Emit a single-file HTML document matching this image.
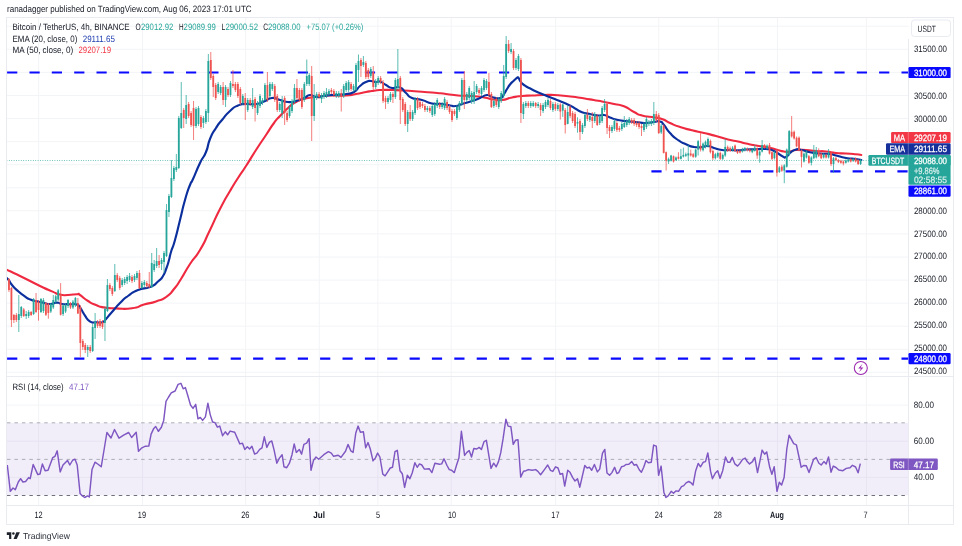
<!DOCTYPE html><html><head><meta charset="utf-8"><title>BTCUSDT chart</title><style>html,body{margin:0;padding:0;background:#fff}svg{display:block}</style></head><body><svg width="962" height="546" viewBox="0 0 962 546" font-family='"Liberation Sans", "DejaVu Sans", sans-serif' font-size="9.2" text-rendering="geometricPrecision">
<rect x="0" y="0" width="962" height="546" fill="#ffffff"/>
<g stroke="#f3f4f7" stroke-width="1">
<line x1="38.6" y1="17.5" x2="38.6" y2="505.5"/>
<line x1="142.5" y1="17.5" x2="142.5" y2="505.5"/>
<line x1="245.6" y1="17.5" x2="245.6" y2="505.5"/>
<line x1="319.3" y1="17.5" x2="319.3" y2="505.5"/>
<line x1="377.9" y1="17.5" x2="377.9" y2="505.5"/>
<line x1="451.2" y1="17.5" x2="451.2" y2="505.5"/>
<line x1="555.6" y1="17.5" x2="555.6" y2="505.5"/>
<line x1="658.8" y1="17.5" x2="658.8" y2="505.5"/>
<line x1="718.3" y1="17.5" x2="718.3" y2="505.5"/>
<line x1="777.5" y1="17.5" x2="777.5" y2="505.5"/>
<line x1="866.4" y1="17.5" x2="866.4" y2="505.5"/>
<line x1="6.5" y1="372.3" x2="908.5" y2="372.3"/>
<line x1="6.5" y1="349.3" x2="908.5" y2="349.3"/>
<line x1="6.5" y1="326.2" x2="908.5" y2="326.2"/>
<line x1="6.5" y1="303.1" x2="908.5" y2="303.1"/>
<line x1="6.5" y1="280.1" x2="908.5" y2="280.1"/>
<line x1="6.5" y1="257.0" x2="908.5" y2="257.0"/>
<line x1="6.5" y1="233.9" x2="908.5" y2="233.9"/>
<line x1="6.5" y1="210.8" x2="908.5" y2="210.8"/>
<line x1="6.5" y1="187.8" x2="908.5" y2="187.8"/>
<line x1="6.5" y1="164.7" x2="908.5" y2="164.7"/>
<line x1="6.5" y1="141.6" x2="908.5" y2="141.6"/>
<line x1="6.5" y1="118.5" x2="908.5" y2="118.5"/>
<line x1="6.5" y1="95.5" x2="908.5" y2="95.5"/>
<line x1="6.5" y1="72.4" x2="908.5" y2="72.4"/>
<line x1="6.5" y1="49.3" x2="908.5" y2="49.3"/>
<line x1="6.5" y1="26.2" x2="908.5" y2="26.2"/>
<line x1="6.5" y1="405.1" x2="908.5" y2="405.1"/>
<line x1="6.5" y1="441.2" x2="908.5" y2="441.2"/>
<line x1="6.5" y1="477.3" x2="908.5" y2="477.3"/>
</g>
<rect x="6.5" y="423" width="902.0" height="72.3" fill="#7e57c2" fill-opacity="0.1"/>
<g fill="none" stroke-width="0.9">
<line x1="7" y1="422.8" x2="908.5" y2="422.8" stroke="#a3a6af" stroke-dasharray="3.5 3.953"/>
<line x1="7" y1="459.4" x2="908.5" y2="459.4" stroke="#a3a6af" stroke-dasharray="3.5 3.953"/>
<line x1="7" y1="495.5" x2="908.5" y2="495.5" stroke="#5d606b" stroke-dasharray="3.5 3.953"/>
</g>
<line x1="6.5" y1="160.5" x2="908.5" y2="160.5" stroke="#26a69a" stroke-width="0.8" stroke-dasharray="0.8 1.6"/>
<path d="M7.1,72.5H17.3M29.5,72.5H39.7M51.8,72.5H62.0M74.2,72.5H84.4M96.5,72.5H106.7M118.9,72.5H129.1M141.3,72.5H151.5M163.6,72.5H173.8M186.0,72.5H196.2M208.3,72.5H218.5M230.7,72.5H240.9M253.1,72.5H263.3M275.4,72.5H285.6M297.8,72.5H308.0M320.1,72.5H330.3M342.5,72.5H352.7M364.9,72.5H375.1M387.2,72.5H397.4M409.6,72.5H419.8M431.9,72.5H442.1M454.3,72.5H464.5M476.7,72.5H486.9M499.0,72.5H509.2M521.4,72.5H531.6M543.7,72.5H553.9M566.1,72.5H576.3M588.5,72.5H598.7M610.8,72.5H621.0M633.2,72.5H643.4M655.5,72.5H665.7M677.9,72.5H688.1M700.3,72.5H710.5M722.6,72.5H732.8M745.0,72.5H755.2M767.3,72.5H777.5M789.7,72.5H799.9M812.1,72.5H822.3M834.4,72.5H844.6M856.8,72.5H867.0M879.1,72.5H889.3M901.5,72.5H908.5" stroke="#0a0aff" stroke-width="2.15" fill="none"/>
<path d="M7.1,358.6H17.3M29.5,358.6H39.7M51.8,358.6H62.0M74.2,358.6H84.4M96.5,358.6H106.7M118.9,358.6H129.1M141.3,358.6H151.5M163.6,358.6H173.8M186.0,358.6H196.2M208.3,358.6H218.5M230.7,358.6H240.9M253.1,358.6H263.3M275.4,358.6H285.6M297.8,358.6H308.0M320.1,358.6H330.3M342.5,358.6H352.7M364.9,358.6H375.1M387.2,358.6H397.4M409.6,358.6H419.8M431.9,358.6H442.1M454.3,358.6H464.5M476.7,358.6H486.9M499.0,358.6H509.2M521.4,358.6H531.6M543.7,358.6H553.9M566.1,358.6H576.3M588.5,358.6H598.7M610.8,358.6H621.0M633.2,358.6H643.4M655.5,358.6H665.7M677.9,358.6H688.1M700.3,358.6H710.5M722.6,358.6H732.8M745.0,358.6H755.2M767.3,358.6H777.5M789.7,358.6H799.9M812.1,358.6H822.3M834.4,358.6H844.6M856.8,358.6H867.0M879.1,358.6H889.3M901.5,358.6H908.5" stroke="#0a0aff" stroke-width="2.15" fill="none"/>
<path d="M651.4,171.4H661.6M673.8,171.4H684.0M696.1,171.4H706.3M718.5,171.4H728.7M740.8,171.4H751.0M763.2,171.4H773.4M785.6,171.4H795.8M807.9,171.4H818.1M830.3,171.4H840.5M852.6,171.4H862.8M875.0,171.4H885.2M897.4,171.4H907.6" stroke="#0a0aff" stroke-width="2.15" fill="none"/>
<clipPath id="cp"><rect x="7" y="18" width="901.5" height="358.5"/></clipPath>
<g clip-path="url(#cp)">
<path d="M6.5,269.7C11.0,271.8 8.8,270.6 20.0,276.0C31.2,281.4 29.3,280.9 40.0,286.0C50.7,291.1 45.3,288.5 52.0,291.4C58.7,294.3 54.7,293.4 60.0,294.6C65.3,295.8 62.3,295.1 68.0,295.0C73.7,294.9 73.0,294.2 77.0,294.2C81.0,294.2 76.3,292.7 80.0,295.0C83.7,297.3 82.7,297.7 88.0,301.0C93.3,304.3 90.7,302.9 96.0,305.0C101.3,307.1 97.3,306.3 104.0,307.4C110.7,308.5 106.7,308.1 116.0,308.4C125.3,308.7 122.7,309.5 132.0,308.2C141.3,306.9 136.0,306.9 144.0,304.6C152.0,302.3 148.7,303.9 156.0,301.4C163.3,298.9 160.0,301.1 166.0,297.0C172.0,292.9 169.0,295.0 174.0,289.0C179.0,283.0 175.7,287.3 181.0,279.0C186.3,270.7 183.7,273.7 190.0,264.0C196.3,254.3 193.3,261.3 200.0,250.0C206.7,238.7 203.3,243.7 210.0,230.0C216.7,216.3 213.3,222.0 220.0,209.0C226.7,196.0 224.0,201.3 230.0,191.0C236.0,180.7 232.7,186.3 238.0,178.0C243.3,169.7 240.0,175.3 246.0,166.0C252.0,156.7 249.3,160.3 256.0,150.0C262.7,139.7 260.0,144.0 266.0,135.0C272.0,126.0 269.3,129.3 274.0,123.0C278.7,116.7 275.3,121.0 280.0,116.0C284.7,111.0 282.7,112.7 288.0,108.0C293.3,103.3 290.7,105.0 296.0,102.0C301.3,99.0 298.7,100.5 304.0,99.0C309.3,97.5 306.0,98.5 312.0,97.5C318.0,96.5 314.7,96.7 322.0,96.0C329.3,95.3 326.0,95.7 334.0,95.5C342.0,95.3 338.7,96.0 346.0,95.5C353.3,95.0 349.3,95.2 356.0,94.0C362.7,92.8 360.0,93.1 366.0,92.0C372.0,90.9 368.7,91.4 374.0,90.7C379.3,90.0 376.0,90.2 382.0,90.0C388.0,89.8 384.7,89.8 392.0,90.0C399.3,90.2 395.3,90.0 404.0,90.5C412.7,91.0 408.7,90.8 418.0,91.5C427.3,92.2 422.7,91.7 432.0,92.5C441.3,93.3 437.3,93.0 446.0,94.0C454.7,95.0 449.3,94.8 458.0,95.5C466.7,96.2 463.3,95.3 472.0,96.0C480.7,96.7 476.7,96.3 484.0,97.5C491.3,98.7 488.0,98.7 494.0,99.5C500.0,100.3 496.0,100.7 502.0,100.0C508.0,99.3 505.3,98.8 512.0,97.5C518.7,96.2 515.3,96.7 522.0,96.0C528.7,95.3 524.7,95.8 532.0,95.5C539.3,95.2 536.7,95.2 544.0,95.0C551.3,94.8 546.7,94.7 554.0,95.0C561.3,95.3 558.0,95.2 566.0,96.0C574.0,96.8 570.0,96.4 578.0,97.5C586.0,98.6 582.0,98.1 590.0,99.4C598.0,100.7 594.0,100.0 602.0,101.5C610.0,103.0 606.7,102.4 614.0,104.0C621.3,105.6 617.3,103.6 624.0,106.3C630.7,109.0 628.0,108.9 634.0,112.0C640.0,115.1 636.0,113.8 642.0,115.5C648.0,117.2 645.3,115.8 652.0,117.0C658.7,118.2 656.0,117.0 662.0,119.0C668.0,121.0 664.0,120.3 670.0,123.0C676.0,125.7 672.7,124.6 680.0,127.0C687.3,129.4 684.0,128.3 692.0,130.3C700.0,132.3 696.0,131.1 704.0,133.0C712.0,134.9 708.0,133.8 716.0,136.0C724.0,138.2 720.7,137.7 728.0,139.5C735.3,141.3 732.0,140.2 738.0,141.5C744.0,142.8 740.0,142.2 746.0,143.5C752.0,144.8 749.3,144.3 756.0,145.5C762.7,146.7 759.3,145.7 766.0,147.0C772.7,148.3 770.0,148.0 776.0,149.5C782.0,151.0 779.3,150.8 784.0,151.5C788.7,152.2 786.0,152.0 790.0,151.5C794.0,151.0 790.7,150.5 796.0,150.0C801.3,149.5 799.3,149.7 806.0,150.0C812.7,150.3 809.3,150.5 816.0,151.0C822.7,151.5 819.3,150.8 826.0,151.5C832.7,152.2 829.3,152.3 836.0,153.0C842.7,153.7 839.3,153.1 846.0,153.5C852.7,153.9 850.9,153.8 856.0,154.3C861.1,154.8 859.5,154.8 861.3,155.0" fill="none" stroke="#ef2a40" stroke-width="2.1" stroke-linecap="round" stroke-linejoin="round"/>
<path d="M6.8,278.0C7.5,278.8 7.3,278.2 9.0,280.5C10.7,282.8 9.3,281.7 12.0,285.0C14.7,288.3 13.3,286.9 17.2,290.4C21.1,293.9 19.4,292.5 23.8,295.6C28.2,298.7 26.0,297.7 30.4,299.6C34.8,301.5 32.6,300.2 37.0,301.3C41.4,302.4 39.2,302.0 43.6,302.9C48.0,303.8 45.8,304.1 50.2,304.0C54.6,303.9 52.9,302.6 56.8,302.6C60.7,302.6 57.6,303.5 62.0,304.0C66.4,304.5 65.2,304.0 70.0,304.2C74.8,304.4 73.2,303.4 76.5,304.5C79.8,305.6 77.3,304.1 80.0,307.5C82.7,310.9 81.2,310.2 84.5,314.8C87.8,319.4 86.0,318.9 89.8,321.4C93.6,323.9 92.6,322.0 96.0,322.3C99.4,322.6 97.7,322.5 100.0,322.4C102.3,322.3 101.0,323.1 103.0,322.0C105.0,320.9 103.0,322.3 106.0,319.0C109.0,315.7 107.3,317.3 112.0,312.0C116.7,306.7 114.7,308.3 120.0,303.0C125.3,297.7 122.0,300.3 128.0,296.0C134.0,291.7 130.7,293.0 138.0,290.0C145.3,287.0 143.3,289.8 150.0,287.0C156.7,284.2 153.7,285.2 158.0,281.5C162.3,277.8 160.2,280.5 163.0,276.0C165.8,271.5 164.5,273.3 166.5,268.0C168.5,262.7 167.5,265.3 169.0,260.0C170.5,254.7 169.0,258.7 171.0,252.0C173.0,245.3 172.0,250.7 175.0,240.0C178.0,229.3 176.7,233.3 180.0,220.0C183.3,206.7 181.7,211.7 185.0,200.0C188.3,188.3 187.3,192.0 190.0,185.0C192.7,178.0 189.7,186.3 193.0,179.0C196.3,171.7 195.7,172.0 200.0,163.0C204.3,154.0 202.7,160.0 206.0,152.0C209.3,144.0 206.7,147.0 210.0,139.0C213.3,131.0 212.0,134.3 216.0,128.0C220.0,121.7 217.3,125.7 222.0,120.0C226.7,114.3 224.7,115.8 230.0,111.0C235.3,106.2 232.7,107.8 238.0,105.5C243.3,103.2 240.0,104.5 246.0,104.0C252.0,103.5 250.0,104.8 256.0,104.0C262.0,103.2 258.7,103.5 264.0,101.5C269.3,99.5 266.7,98.5 272.0,98.0C277.3,97.5 274.7,98.7 280.0,100.0C285.3,101.3 282.7,101.7 288.0,102.0C293.3,102.3 290.7,102.3 296.0,101.0C301.3,99.7 299.3,100.0 304.0,98.0C308.7,96.0 306.0,95.3 310.0,95.0C314.0,94.7 311.3,96.7 316.0,97.0C320.7,97.3 318.7,96.7 324.0,96.0C329.3,95.3 327.3,95.3 332.0,95.0C336.7,94.7 333.3,95.3 338.0,95.0C342.7,94.7 340.7,95.0 346.0,94.0C351.3,93.0 349.3,94.7 354.0,92.0C358.7,89.3 356.0,89.3 360.0,86.0C364.0,82.7 362.3,83.7 366.0,82.0C369.7,80.3 367.7,81.0 371.0,81.0C374.3,81.0 373.0,81.8 376.0,82.0C379.0,82.2 376.7,80.5 380.0,81.5C383.3,82.5 382.0,82.8 386.0,85.0C390.0,87.2 387.3,87.2 392.0,88.0C396.7,88.8 395.3,85.8 400.0,87.5C404.7,89.2 402.0,89.5 406.0,93.0C410.0,96.5 406.7,95.7 412.0,98.0C417.3,100.3 415.3,98.2 422.0,100.0C428.7,101.8 425.3,102.2 432.0,103.5C438.7,104.8 436.0,103.3 442.0,104.0C448.0,104.7 445.3,104.8 450.0,105.5C454.7,106.2 452.0,106.5 456.0,106.0C460.0,105.5 456.7,105.7 462.0,104.0C467.3,102.3 466.0,103.0 472.0,101.0C478.0,99.0 475.0,100.0 480.0,98.0C485.0,96.0 483.0,95.3 487.0,95.0C491.0,94.7 487.7,96.0 492.0,97.0C496.3,98.0 496.0,99.0 500.0,98.0C504.0,97.0 501.7,97.0 504.0,94.0C506.3,91.0 505.0,92.2 507.0,89.0C509.0,85.8 507.7,87.3 510.0,84.5C512.3,81.7 511.8,82.6 514.0,80.5C516.2,78.4 515.3,79.2 516.6,78.2C517.9,77.2 517.0,77.3 517.8,77.4C518.6,77.5 518.1,77.2 519.0,78.6C519.9,80.0 518.8,79.4 520.5,81.5C522.2,83.6 520.2,82.3 524.0,85.0C527.8,87.7 526.0,86.5 532.0,89.5C538.0,92.5 535.3,91.2 542.0,94.0C548.7,96.8 545.3,95.3 552.0,98.0C558.7,100.7 556.0,99.5 562.0,102.0C568.0,104.5 565.3,103.2 570.0,105.5C574.7,107.8 572.0,106.7 576.0,109.0C580.0,111.3 577.3,110.6 582.0,112.3C586.7,114.0 584.7,112.9 590.0,114.0C595.3,115.1 593.3,115.2 598.0,115.5C602.7,115.8 600.0,114.3 604.0,115.0C608.0,115.7 605.3,115.8 610.0,117.5C614.7,119.2 612.0,118.7 618.0,120.0C624.0,121.3 621.3,120.5 628.0,121.3C634.7,122.1 632.0,121.7 638.0,122.3C644.0,122.9 640.7,123.1 646.0,123.0C651.3,122.9 649.3,122.5 654.0,122.0C658.7,121.5 656.7,120.5 660.0,121.5C663.3,122.5 660.7,121.2 664.0,125.0C667.3,128.8 665.3,128.0 670.0,133.0C674.7,138.0 672.7,136.2 678.0,140.0C683.3,143.8 680.7,142.0 686.0,144.3C691.3,146.6 688.7,146.1 694.0,147.0C699.3,147.9 697.3,147.3 702.0,147.0C706.7,146.7 704.0,145.7 708.0,146.0C712.0,146.3 709.3,146.7 714.0,148.0C718.7,149.3 716.7,149.3 722.0,150.0C727.3,150.7 724.7,149.9 730.0,150.0C735.3,150.1 732.7,150.5 738.0,150.3C743.3,150.1 740.0,149.8 746.0,149.5C752.0,149.2 749.3,149.5 756.0,149.3C762.7,149.1 760.0,148.4 766.0,149.0C772.0,149.6 768.7,148.7 774.0,151.0C779.3,153.3 778.0,154.0 782.0,156.0C786.0,158.0 783.3,158.0 786.0,157.0C788.7,156.0 786.7,155.5 790.0,153.0C793.3,150.5 792.0,150.5 796.0,149.5C800.0,148.5 797.3,149.1 802.0,150.0C806.7,150.9 804.0,151.1 810.0,152.3C816.0,153.5 813.3,152.9 820.0,153.5C826.7,154.1 824.7,153.3 830.0,154.0C835.3,154.7 830.7,154.2 836.0,155.5C841.3,156.8 839.3,156.8 846.0,158.0C852.7,159.2 850.9,158.3 856.0,159.0C861.1,159.7 859.5,159.7 861.3,160.0" fill="none" stroke="#0c2f9e" stroke-width="2.15" stroke-linecap="round" stroke-linejoin="round"/>
<line x1="8.96" y1="278.0" x2="8.96" y2="292.0" stroke="#ef5350" stroke-width="0.75"/><line x1="11.43" y1="287.0" x2="11.43" y2="327.0" stroke="#ef5350" stroke-width="0.75"/><line x1="13.89" y1="314.0" x2="13.89" y2="323.0" stroke="#ef5350" stroke-width="0.75"/><line x1="16.35" y1="313.0" x2="16.35" y2="322.0" stroke="#ef5350" stroke-width="0.75"/><line x1="18.81" y1="295.0" x2="18.81" y2="332.0" stroke="#26a69a" stroke-width="0.75"/><line x1="21.27" y1="306.0" x2="21.27" y2="318.0" stroke="#26a69a" stroke-width="0.75"/><line x1="23.73" y1="308.0" x2="23.73" y2="317.0" stroke="#ef5350" stroke-width="0.75"/><line x1="26.19" y1="311.0" x2="26.19" y2="319.0" stroke="#26a69a" stroke-width="0.75"/><line x1="28.65" y1="310.0" x2="28.65" y2="318.0" stroke="#26a69a" stroke-width="0.75"/><line x1="31.12" y1="311.0" x2="31.12" y2="316.0" stroke="#ef5350" stroke-width="0.75"/><line x1="33.58" y1="298.0" x2="33.58" y2="315.0" stroke="#26a69a" stroke-width="0.75"/><line x1="36.04" y1="293.0" x2="36.04" y2="313.0" stroke="#ef5350" stroke-width="0.75"/><line x1="38.50" y1="300.0" x2="38.50" y2="320.7" stroke="#ef5350" stroke-width="0.75"/><line x1="40.96" y1="298.0" x2="40.96" y2="313.0" stroke="#26a69a" stroke-width="0.75"/><line x1="43.42" y1="298.0" x2="43.42" y2="313.0" stroke="#26a69a" stroke-width="0.75"/><line x1="45.88" y1="302.0" x2="45.88" y2="316.0" stroke="#ef5350" stroke-width="0.75"/><line x1="48.35" y1="303.0" x2="48.35" y2="318.7" stroke="#ef5350" stroke-width="0.75"/><line x1="50.81" y1="303.0" x2="50.81" y2="313.0" stroke="#26a69a" stroke-width="0.75"/><line x1="53.27" y1="295.0" x2="53.27" y2="309.0" stroke="#26a69a" stroke-width="0.75"/><line x1="55.73" y1="295.0" x2="55.73" y2="304.0" stroke="#26a69a" stroke-width="0.75"/><line x1="58.19" y1="289.0" x2="58.19" y2="301.0" stroke="#26a69a" stroke-width="0.75"/><line x1="60.65" y1="283.1" x2="60.65" y2="315.5" stroke="#ef5350" stroke-width="0.75"/><line x1="63.11" y1="304.0" x2="63.11" y2="316.0" stroke="#26a69a" stroke-width="0.75"/><line x1="65.57" y1="303.0" x2="65.57" y2="313.0" stroke="#26a69a" stroke-width="0.75"/><line x1="68.04" y1="299.0" x2="68.04" y2="308.0" stroke="#26a69a" stroke-width="0.75"/><line x1="70.50" y1="302.0" x2="70.50" y2="309.0" stroke="#ef5350" stroke-width="0.75"/><line x1="72.96" y1="300.0" x2="72.96" y2="309.0" stroke="#26a69a" stroke-width="0.75"/><line x1="75.42" y1="297.0" x2="75.42" y2="307.0" stroke="#26a69a" stroke-width="0.75"/><line x1="77.88" y1="298.0" x2="77.88" y2="314.0" stroke="#ef5350" stroke-width="0.75"/><line x1="80.34" y1="305.0" x2="80.34" y2="357.0" stroke="#ef5350" stroke-width="0.75"/><line x1="82.80" y1="339.0" x2="82.80" y2="350.0" stroke="#ef5350" stroke-width="0.75"/><line x1="85.26" y1="343.0" x2="85.26" y2="353.0" stroke="#ef5350" stroke-width="0.75"/><line x1="87.73" y1="345.0" x2="87.73" y2="357.0" stroke="#26a69a" stroke-width="0.75"/><line x1="90.19" y1="345.0" x2="90.19" y2="353.0" stroke="#ef5350" stroke-width="0.75"/><line x1="92.65" y1="324.0" x2="92.65" y2="352.0" stroke="#26a69a" stroke-width="0.75"/><line x1="95.11" y1="313.0" x2="95.11" y2="339.0" stroke="#26a69a" stroke-width="0.75"/><line x1="97.57" y1="320.0" x2="97.57" y2="328.0" stroke="#ef5350" stroke-width="0.75"/><line x1="100.03" y1="319.0" x2="100.03" y2="328.0" stroke="#ef5350" stroke-width="0.75"/><line x1="102.49" y1="320.0" x2="102.49" y2="329.0" stroke="#ef5350" stroke-width="0.75"/><line x1="104.96" y1="307.0" x2="104.96" y2="341.0" stroke="#26a69a" stroke-width="0.75"/><line x1="107.42" y1="279.0" x2="107.42" y2="312.0" stroke="#26a69a" stroke-width="0.75"/><line x1="109.88" y1="283.0" x2="109.88" y2="291.0" stroke="#ef5350" stroke-width="0.75"/><line x1="112.34" y1="286.0" x2="112.34" y2="296.0" stroke="#ef5350" stroke-width="0.75"/><line x1="114.80" y1="264.0" x2="114.80" y2="292.0" stroke="#26a69a" stroke-width="0.75"/><line x1="117.26" y1="273.0" x2="117.26" y2="282.0" stroke="#ef5350" stroke-width="0.75"/><line x1="119.72" y1="276.0" x2="119.72" y2="290.0" stroke="#ef5350" stroke-width="0.75"/><line x1="122.18" y1="278.0" x2="122.18" y2="287.0" stroke="#26a69a" stroke-width="0.75"/><line x1="124.65" y1="277.0" x2="124.65" y2="285.0" stroke="#26a69a" stroke-width="0.75"/><line x1="127.11" y1="275.0" x2="127.11" y2="284.0" stroke="#26a69a" stroke-width="0.75"/><line x1="129.57" y1="273.0" x2="129.57" y2="282.0" stroke="#26a69a" stroke-width="0.75"/><line x1="132.03" y1="275.0" x2="132.03" y2="283.0" stroke="#ef5350" stroke-width="0.75"/><line x1="134.49" y1="274.0" x2="134.49" y2="282.0" stroke="#26a69a" stroke-width="0.75"/><line x1="136.95" y1="271.0" x2="136.95" y2="280.0" stroke="#26a69a" stroke-width="0.75"/><line x1="139.41" y1="270.0" x2="139.41" y2="289.0" stroke="#ef5350" stroke-width="0.75"/><line x1="141.87" y1="281.0" x2="141.87" y2="289.0" stroke="#26a69a" stroke-width="0.75"/><line x1="144.34" y1="280.0" x2="144.34" y2="287.0" stroke="#26a69a" stroke-width="0.75"/><line x1="146.80" y1="281.0" x2="146.80" y2="288.0" stroke="#ef5350" stroke-width="0.75"/><line x1="149.26" y1="272.0" x2="149.26" y2="288.0" stroke="#ef5350" stroke-width="0.75"/><line x1="151.72" y1="253.0" x2="151.72" y2="288.0" stroke="#26a69a" stroke-width="0.75"/><line x1="154.18" y1="260.0" x2="154.18" y2="272.0" stroke="#26a69a" stroke-width="0.75"/><line x1="156.64" y1="248.0" x2="156.64" y2="268.0" stroke="#26a69a" stroke-width="0.75"/><line x1="159.10" y1="255.0" x2="159.10" y2="268.0" stroke="#ef5350" stroke-width="0.75"/><line x1="161.56" y1="258.0" x2="161.56" y2="270.0" stroke="#26a69a" stroke-width="0.75"/><line x1="164.03" y1="251.0" x2="164.03" y2="273.0" stroke="#26a69a" stroke-width="0.75"/><line x1="166.49" y1="204.0" x2="166.49" y2="257.0" stroke="#26a69a" stroke-width="0.75"/><line x1="168.95" y1="194.0" x2="168.95" y2="217.0" stroke="#26a69a" stroke-width="0.75"/><line x1="171.41" y1="160.0" x2="171.41" y2="198.0" stroke="#26a69a" stroke-width="0.75"/><line x1="173.87" y1="166.0" x2="173.87" y2="181.0" stroke="#26a69a" stroke-width="0.75"/><line x1="176.33" y1="154.0" x2="176.33" y2="172.0" stroke="#26a69a" stroke-width="0.75"/><line x1="178.79" y1="116.0" x2="178.79" y2="169.0" stroke="#26a69a" stroke-width="0.75"/><line x1="181.26" y1="82.0" x2="181.26" y2="129.0" stroke="#26a69a" stroke-width="0.75"/><line x1="183.72" y1="108.0" x2="183.72" y2="128.0" stroke="#ef5350" stroke-width="0.75"/><line x1="186.18" y1="95.0" x2="186.18" y2="124.0" stroke="#26a69a" stroke-width="0.75"/><line x1="188.64" y1="102.0" x2="188.64" y2="118.0" stroke="#ef5350" stroke-width="0.75"/><line x1="191.10" y1="111.0" x2="191.10" y2="127.0" stroke="#ef5350" stroke-width="0.75"/><line x1="193.56" y1="101.0" x2="193.56" y2="140.0" stroke="#ef5350" stroke-width="0.75"/><line x1="196.02" y1="107.0" x2="196.02" y2="128.0" stroke="#26a69a" stroke-width="0.75"/><line x1="198.48" y1="106.0" x2="198.48" y2="126.0" stroke="#26a69a" stroke-width="0.75"/><line x1="200.95" y1="115.0" x2="200.95" y2="129.0" stroke="#ef5350" stroke-width="0.75"/><line x1="203.41" y1="116.0" x2="203.41" y2="128.0" stroke="#26a69a" stroke-width="0.75"/><line x1="205.87" y1="109.0" x2="205.87" y2="124.0" stroke="#26a69a" stroke-width="0.75"/><line x1="208.33" y1="54.0" x2="208.33" y2="122.0" stroke="#26a69a" stroke-width="0.75"/><line x1="210.79" y1="52.0" x2="210.79" y2="80.0" stroke="#ef5350" stroke-width="0.75"/><line x1="213.25" y1="74.0" x2="213.25" y2="97.0" stroke="#ef5350" stroke-width="0.75"/><line x1="215.71" y1="83.0" x2="215.71" y2="100.0" stroke="#ef5350" stroke-width="0.75"/><line x1="218.17" y1="82.0" x2="218.17" y2="94.0" stroke="#26a69a" stroke-width="0.75"/><line x1="220.64" y1="85.0" x2="220.64" y2="95.0" stroke="#26a69a" stroke-width="0.75"/><line x1="223.10" y1="82.0" x2="223.10" y2="105.0" stroke="#ef5350" stroke-width="0.75"/><line x1="225.56" y1="85.0" x2="225.56" y2="107.0" stroke="#26a69a" stroke-width="0.75"/><line x1="228.02" y1="87.0" x2="228.02" y2="97.0" stroke="#ef5350" stroke-width="0.75"/><line x1="230.48" y1="81.0" x2="230.48" y2="97.0" stroke="#26a69a" stroke-width="0.75"/><line x1="232.94" y1="70.0" x2="232.94" y2="88.0" stroke="#ef5350" stroke-width="0.75"/><line x1="235.40" y1="82.0" x2="235.40" y2="92.0" stroke="#ef5350" stroke-width="0.75"/><line x1="237.87" y1="82.0" x2="237.87" y2="98.0" stroke="#ef5350" stroke-width="0.75"/><line x1="240.33" y1="87.0" x2="240.33" y2="105.0" stroke="#ef5350" stroke-width="0.75"/><line x1="242.79" y1="94.0" x2="242.79" y2="105.0" stroke="#26a69a" stroke-width="0.75"/><line x1="245.25" y1="93.0" x2="245.25" y2="120.0" stroke="#ef5350" stroke-width="0.75"/><line x1="247.71" y1="98.0" x2="247.71" y2="112.0" stroke="#26a69a" stroke-width="0.75"/><line x1="250.17" y1="98.0" x2="250.17" y2="106.0" stroke="#ef5350" stroke-width="0.75"/><line x1="252.63" y1="88.0" x2="252.63" y2="109.0" stroke="#26a69a" stroke-width="0.75"/><line x1="255.09" y1="97.0" x2="255.09" y2="121.5" stroke="#ef5350" stroke-width="0.75"/><line x1="257.56" y1="101.0" x2="257.56" y2="115.0" stroke="#26a69a" stroke-width="0.75"/><line x1="260.02" y1="94.0" x2="260.02" y2="108.0" stroke="#26a69a" stroke-width="0.75"/><line x1="262.48" y1="98.0" x2="262.48" y2="105.0" stroke="#26a69a" stroke-width="0.75"/><line x1="264.94" y1="83.0" x2="264.94" y2="101.0" stroke="#26a69a" stroke-width="0.75"/><line x1="267.40" y1="72.0" x2="267.40" y2="102.0" stroke="#ef5350" stroke-width="0.75"/><line x1="269.86" y1="82.0" x2="269.86" y2="98.0" stroke="#26a69a" stroke-width="0.75"/><line x1="272.32" y1="82.0" x2="272.32" y2="91.0" stroke="#26a69a" stroke-width="0.75"/><line x1="274.78" y1="84.0" x2="274.78" y2="102.0" stroke="#ef5350" stroke-width="0.75"/><line x1="277.25" y1="94.0" x2="277.25" y2="112.0" stroke="#ef5350" stroke-width="0.75"/><line x1="279.71" y1="102.0" x2="279.71" y2="112.0" stroke="#26a69a" stroke-width="0.75"/><line x1="282.17" y1="96.0" x2="282.17" y2="118.0" stroke="#26a69a" stroke-width="0.75"/><line x1="284.63" y1="96.0" x2="284.63" y2="125.0" stroke="#ef5350" stroke-width="0.75"/><line x1="287.09" y1="111.0" x2="287.09" y2="122.0" stroke="#ef5350" stroke-width="0.75"/><line x1="289.55" y1="105.0" x2="289.55" y2="118.0" stroke="#26a69a" stroke-width="0.75"/><line x1="292.01" y1="99.0" x2="292.01" y2="113.0" stroke="#26a69a" stroke-width="0.75"/><line x1="294.48" y1="84.0" x2="294.48" y2="104.0" stroke="#26a69a" stroke-width="0.75"/><line x1="296.94" y1="79.0" x2="296.94" y2="100.0" stroke="#ef5350" stroke-width="0.75"/><line x1="299.40" y1="88.0" x2="299.40" y2="102.0" stroke="#ef5350" stroke-width="0.75"/><line x1="301.86" y1="88.0" x2="301.86" y2="109.0" stroke="#ef5350" stroke-width="0.75"/><line x1="304.32" y1="82.0" x2="304.32" y2="102.0" stroke="#26a69a" stroke-width="0.75"/><line x1="306.78" y1="59.5" x2="306.78" y2="86.0" stroke="#26a69a" stroke-width="0.75"/><line x1="309.24" y1="73.0" x2="309.24" y2="86.0" stroke="#26a69a" stroke-width="0.75"/><line x1="311.70" y1="66.0" x2="311.70" y2="141.0" stroke="#ef5350" stroke-width="0.75"/><line x1="314.17" y1="84.0" x2="314.17" y2="121.0" stroke="#26a69a" stroke-width="0.75"/><line x1="316.63" y1="92.0" x2="316.63" y2="100.0" stroke="#26a69a" stroke-width="0.75"/><line x1="319.09" y1="92.0" x2="319.09" y2="99.0" stroke="#ef5350" stroke-width="0.75"/><line x1="321.55" y1="93.0" x2="321.55" y2="103.0" stroke="#26a69a" stroke-width="0.75"/><line x1="324.01" y1="91.0" x2="324.01" y2="99.0" stroke="#26a69a" stroke-width="0.75"/><line x1="326.47" y1="88.0" x2="326.47" y2="98.0" stroke="#26a69a" stroke-width="0.75"/><line x1="328.93" y1="89.0" x2="328.93" y2="96.0" stroke="#26a69a" stroke-width="0.75"/><line x1="331.39" y1="88.0" x2="331.39" y2="94.0" stroke="#ef5350" stroke-width="0.75"/><line x1="333.86" y1="89.0" x2="333.86" y2="97.0" stroke="#ef5350" stroke-width="0.75"/><line x1="336.32" y1="91.0" x2="336.32" y2="98.0" stroke="#26a69a" stroke-width="0.75"/><line x1="338.78" y1="91.0" x2="338.78" y2="98.0" stroke="#26a69a" stroke-width="0.75"/><line x1="341.24" y1="89.0" x2="341.24" y2="111.5" stroke="#ef5350" stroke-width="0.75"/><line x1="343.70" y1="84.0" x2="343.70" y2="98.0" stroke="#26a69a" stroke-width="0.75"/><line x1="346.16" y1="81.0" x2="346.16" y2="92.0" stroke="#26a69a" stroke-width="0.75"/><line x1="348.62" y1="80.0" x2="348.62" y2="92.0" stroke="#26a69a" stroke-width="0.75"/><line x1="351.09" y1="82.0" x2="351.09" y2="91.0" stroke="#ef5350" stroke-width="0.75"/><line x1="353.55" y1="84.0" x2="353.55" y2="92.0" stroke="#26a69a" stroke-width="0.75"/><line x1="356.01" y1="63.0" x2="356.01" y2="91.0" stroke="#26a69a" stroke-width="0.75"/><line x1="358.47" y1="54.5" x2="358.47" y2="82.0" stroke="#26a69a" stroke-width="0.75"/><line x1="360.93" y1="58.0" x2="360.93" y2="77.0" stroke="#ef5350" stroke-width="0.75"/><line x1="363.39" y1="56.0" x2="363.39" y2="67.0" stroke="#26a69a" stroke-width="0.75"/><line x1="365.85" y1="61.0" x2="365.85" y2="79.0" stroke="#ef5350" stroke-width="0.75"/><line x1="368.31" y1="68.0" x2="368.31" y2="79.0" stroke="#ef5350" stroke-width="0.75"/><line x1="370.78" y1="67.0" x2="370.78" y2="78.0" stroke="#26a69a" stroke-width="0.75"/><line x1="373.24" y1="66.0" x2="373.24" y2="90.0" stroke="#ef5350" stroke-width="0.75"/><line x1="375.70" y1="79.0" x2="375.70" y2="89.0" stroke="#26a69a" stroke-width="0.75"/><line x1="378.16" y1="76.0" x2="378.16" y2="85.0" stroke="#26a69a" stroke-width="0.75"/><line x1="380.62" y1="76.0" x2="380.62" y2="84.0" stroke="#ef5350" stroke-width="0.75"/><line x1="383.08" y1="80.0" x2="383.08" y2="103.0" stroke="#ef5350" stroke-width="0.75"/><line x1="385.54" y1="96.0" x2="385.54" y2="109.0" stroke="#ef5350" stroke-width="0.75"/><line x1="388.00" y1="96.0" x2="388.00" y2="104.0" stroke="#26a69a" stroke-width="0.75"/><line x1="390.47" y1="92.0" x2="390.47" y2="102.0" stroke="#26a69a" stroke-width="0.75"/><line x1="392.93" y1="92.0" x2="392.93" y2="103.0" stroke="#ef5350" stroke-width="0.75"/><line x1="395.39" y1="78.0" x2="395.39" y2="99.0" stroke="#26a69a" stroke-width="0.75"/><line x1="397.85" y1="49.0" x2="397.85" y2="90.0" stroke="#26a69a" stroke-width="0.75"/><line x1="400.31" y1="76.0" x2="400.31" y2="124.0" stroke="#ef5350" stroke-width="0.75"/><line x1="402.77" y1="97.0" x2="402.77" y2="112.0" stroke="#ef5350" stroke-width="0.75"/><line x1="405.23" y1="102.0" x2="405.23" y2="126.0" stroke="#ef5350" stroke-width="0.75"/><line x1="407.69" y1="110.0" x2="407.69" y2="132.0" stroke="#26a69a" stroke-width="0.75"/><line x1="410.16" y1="105.0" x2="410.16" y2="121.0" stroke="#ef5350" stroke-width="0.75"/><line x1="412.62" y1="110.0" x2="412.62" y2="121.0" stroke="#26a69a" stroke-width="0.75"/><line x1="415.08" y1="97.0" x2="415.08" y2="115.0" stroke="#26a69a" stroke-width="0.75"/><line x1="417.54" y1="97.0" x2="417.54" y2="110.0" stroke="#ef5350" stroke-width="0.75"/><line x1="420.00" y1="100.0" x2="420.00" y2="109.0" stroke="#ef5350" stroke-width="0.75"/><line x1="422.46" y1="102.0" x2="422.46" y2="108.0" stroke="#ef5350" stroke-width="0.75"/><line x1="424.92" y1="104.0" x2="424.92" y2="112.0" stroke="#ef5350" stroke-width="0.75"/><line x1="427.39" y1="106.0" x2="427.39" y2="112.0" stroke="#26a69a" stroke-width="0.75"/><line x1="429.85" y1="106.0" x2="429.85" y2="113.0" stroke="#ef5350" stroke-width="0.75"/><line x1="432.31" y1="104.0" x2="432.31" y2="117.0" stroke="#26a69a" stroke-width="0.75"/><line x1="434.77" y1="102.0" x2="434.77" y2="116.0" stroke="#26a69a" stroke-width="0.75"/><line x1="437.23" y1="98.0" x2="437.23" y2="108.0" stroke="#26a69a" stroke-width="0.75"/><line x1="439.69" y1="102.0" x2="439.69" y2="109.0" stroke="#ef5350" stroke-width="0.75"/><line x1="442.15" y1="102.0" x2="442.15" y2="109.0" stroke="#26a69a" stroke-width="0.75"/><line x1="444.61" y1="97.0" x2="444.61" y2="110.0" stroke="#26a69a" stroke-width="0.75"/><line x1="447.08" y1="100.0" x2="447.08" y2="110.0" stroke="#ef5350" stroke-width="0.75"/><line x1="449.54" y1="105.0" x2="449.54" y2="114.0" stroke="#ef5350" stroke-width="0.75"/><line x1="452.00" y1="109.0" x2="452.00" y2="122.0" stroke="#ef5350" stroke-width="0.75"/><line x1="454.46" y1="109.0" x2="454.46" y2="116.0" stroke="#ef5350" stroke-width="0.75"/><line x1="456.92" y1="105.0" x2="456.92" y2="120.0" stroke="#26a69a" stroke-width="0.75"/><line x1="459.38" y1="101.0" x2="459.38" y2="112.0" stroke="#26a69a" stroke-width="0.75"/><line x1="461.84" y1="78.0" x2="461.84" y2="106.0" stroke="#26a69a" stroke-width="0.75"/><line x1="464.30" y1="71.0" x2="464.30" y2="109.0" stroke="#ef5350" stroke-width="0.75"/><line x1="466.77" y1="92.0" x2="466.77" y2="102.0" stroke="#26a69a" stroke-width="0.75"/><line x1="469.23" y1="86.0" x2="469.23" y2="100.0" stroke="#26a69a" stroke-width="0.75"/><line x1="471.69" y1="91.0" x2="471.69" y2="104.0" stroke="#26a69a" stroke-width="0.75"/><line x1="474.15" y1="81.0" x2="474.15" y2="104.0" stroke="#26a69a" stroke-width="0.75"/><line x1="476.61" y1="84.0" x2="476.61" y2="94.0" stroke="#26a69a" stroke-width="0.75"/><line x1="479.07" y1="88.0" x2="479.07" y2="95.0" stroke="#ef5350" stroke-width="0.75"/><line x1="481.53" y1="86.0" x2="481.53" y2="96.0" stroke="#26a69a" stroke-width="0.75"/><line x1="484.00" y1="78.0" x2="484.00" y2="92.0" stroke="#26a69a" stroke-width="0.75"/><line x1="486.46" y1="79.0" x2="486.46" y2="90.0" stroke="#26a69a" stroke-width="0.75"/><line x1="488.92" y1="73.0" x2="488.92" y2="97.0" stroke="#ef5350" stroke-width="0.75"/><line x1="491.38" y1="92.0" x2="491.38" y2="108.0" stroke="#ef5350" stroke-width="0.75"/><line x1="493.84" y1="99.0" x2="493.84" y2="108.0" stroke="#26a69a" stroke-width="0.75"/><line x1="496.30" y1="97.0" x2="496.30" y2="107.0" stroke="#ef5350" stroke-width="0.75"/><line x1="498.76" y1="97.0" x2="498.76" y2="109.0" stroke="#26a69a" stroke-width="0.75"/><line x1="501.22" y1="91.0" x2="501.22" y2="103.0" stroke="#26a69a" stroke-width="0.75"/><line x1="503.69" y1="65.0" x2="503.69" y2="98.0" stroke="#26a69a" stroke-width="0.75"/><line x1="506.15" y1="36.0" x2="506.15" y2="79.0" stroke="#26a69a" stroke-width="0.75"/><line x1="508.61" y1="40.0" x2="508.61" y2="53.0" stroke="#ef5350" stroke-width="0.75"/><line x1="511.07" y1="43.0" x2="511.07" y2="54.0" stroke="#26a69a" stroke-width="0.75"/><line x1="513.53" y1="49.0" x2="513.53" y2="70.0" stroke="#ef5350" stroke-width="0.75"/><line x1="515.99" y1="58.0" x2="515.99" y2="70.0" stroke="#26a69a" stroke-width="0.75"/><line x1="518.45" y1="54.0" x2="518.45" y2="71.0" stroke="#26a69a" stroke-width="0.75"/><line x1="520.91" y1="58.0" x2="520.91" y2="123.0" stroke="#ef5350" stroke-width="0.75"/><line x1="523.38" y1="102.0" x2="523.38" y2="119.0" stroke="#26a69a" stroke-width="0.75"/><line x1="525.84" y1="101.0" x2="525.84" y2="108.0" stroke="#26a69a" stroke-width="0.75"/><line x1="528.30" y1="101.0" x2="528.30" y2="108.0" stroke="#ef5350" stroke-width="0.75"/><line x1="530.76" y1="101.0" x2="530.76" y2="108.0" stroke="#26a69a" stroke-width="0.75"/><line x1="533.22" y1="101.0" x2="533.22" y2="107.0" stroke="#26a69a" stroke-width="0.75"/><line x1="535.68" y1="102.0" x2="535.68" y2="108.0" stroke="#ef5350" stroke-width="0.75"/><line x1="538.14" y1="102.0" x2="538.14" y2="108.0" stroke="#26a69a" stroke-width="0.75"/><line x1="540.61" y1="103.0" x2="540.61" y2="116.0" stroke="#ef5350" stroke-width="0.75"/><line x1="543.07" y1="103.0" x2="543.07" y2="113.0" stroke="#26a69a" stroke-width="0.75"/><line x1="545.53" y1="100.0" x2="545.53" y2="109.0" stroke="#26a69a" stroke-width="0.75"/><line x1="547.99" y1="98.0" x2="547.99" y2="107.0" stroke="#26a69a" stroke-width="0.75"/><line x1="550.45" y1="99.0" x2="550.45" y2="110.0" stroke="#ef5350" stroke-width="0.75"/><line x1="552.91" y1="102.0" x2="552.91" y2="112.0" stroke="#26a69a" stroke-width="0.75"/><line x1="555.37" y1="102.0" x2="555.37" y2="111.0" stroke="#ef5350" stroke-width="0.75"/><line x1="557.83" y1="103.0" x2="557.83" y2="111.0" stroke="#26a69a" stroke-width="0.75"/><line x1="560.30" y1="103.2" x2="560.30" y2="119.5" stroke="#ef5350" stroke-width="0.75"/><line x1="562.76" y1="104.0" x2="562.76" y2="116.9" stroke="#26a69a" stroke-width="0.75"/><line x1="565.22" y1="108.0" x2="565.22" y2="133.5" stroke="#ef5350" stroke-width="0.75"/><line x1="567.68" y1="105.4" x2="567.68" y2="124.3" stroke="#26a69a" stroke-width="0.75"/><line x1="570.14" y1="105.0" x2="570.14" y2="118.0" stroke="#ef5350" stroke-width="0.75"/><line x1="572.60" y1="111.0" x2="572.60" y2="123.0" stroke="#ef5350" stroke-width="0.75"/><line x1="575.06" y1="112.0" x2="575.06" y2="128.0" stroke="#ef5350" stroke-width="0.75"/><line x1="577.52" y1="117.3" x2="577.52" y2="132.7" stroke="#26a69a" stroke-width="0.75"/><line x1="579.99" y1="119.0" x2="579.99" y2="140.0" stroke="#ef5350" stroke-width="0.75"/><line x1="582.45" y1="123.0" x2="582.45" y2="134.0" stroke="#26a69a" stroke-width="0.75"/><line x1="584.91" y1="113.0" x2="584.91" y2="128.0" stroke="#26a69a" stroke-width="0.75"/><line x1="587.37" y1="109.0" x2="587.37" y2="121.0" stroke="#ef5350" stroke-width="0.75"/><line x1="589.83" y1="114.0" x2="589.83" y2="122.0" stroke="#26a69a" stroke-width="0.75"/><line x1="592.29" y1="112.0" x2="592.29" y2="128.0" stroke="#ef5350" stroke-width="0.75"/><line x1="594.75" y1="112.0" x2="594.75" y2="123.0" stroke="#26a69a" stroke-width="0.75"/><line x1="597.22" y1="114.0" x2="597.22" y2="126.0" stroke="#ef5350" stroke-width="0.75"/><line x1="599.68" y1="115.0" x2="599.68" y2="125.0" stroke="#26a69a" stroke-width="0.75"/><line x1="602.14" y1="106.0" x2="602.14" y2="123.0" stroke="#26a69a" stroke-width="0.75"/><line x1="604.60" y1="99.0" x2="604.60" y2="112.0" stroke="#26a69a" stroke-width="0.75"/><line x1="607.06" y1="102.0" x2="607.06" y2="134.0" stroke="#ef5350" stroke-width="0.75"/><line x1="609.52" y1="125.0" x2="609.52" y2="138.0" stroke="#ef5350" stroke-width="0.75"/><line x1="611.98" y1="125.0" x2="611.98" y2="133.0" stroke="#26a69a" stroke-width="0.75"/><line x1="614.44" y1="119.0" x2="614.44" y2="131.0" stroke="#26a69a" stroke-width="0.75"/><line x1="616.91" y1="121.0" x2="616.91" y2="132.0" stroke="#ef5350" stroke-width="0.75"/><line x1="619.37" y1="126.0" x2="619.37" y2="132.0" stroke="#ef5350" stroke-width="0.75"/><line x1="621.83" y1="122.0" x2="621.83" y2="131.0" stroke="#26a69a" stroke-width="0.75"/><line x1="624.29" y1="116.0" x2="624.29" y2="128.0" stroke="#26a69a" stroke-width="0.75"/><line x1="626.75" y1="119.0" x2="626.75" y2="127.0" stroke="#26a69a" stroke-width="0.75"/><line x1="629.21" y1="117.0" x2="629.21" y2="125.0" stroke="#26a69a" stroke-width="0.75"/><line x1="631.67" y1="118.0" x2="631.67" y2="124.0" stroke="#ef5350" stroke-width="0.75"/><line x1="634.13" y1="118.0" x2="634.13" y2="126.0" stroke="#ef5350" stroke-width="0.75"/><line x1="636.60" y1="121.0" x2="636.60" y2="127.0" stroke="#ef5350" stroke-width="0.75"/><line x1="639.06" y1="121.0" x2="639.06" y2="129.0" stroke="#ef5350" stroke-width="0.75"/><line x1="641.52" y1="124.0" x2="641.52" y2="136.0" stroke="#ef5350" stroke-width="0.75"/><line x1="643.98" y1="122.0" x2="643.98" y2="132.0" stroke="#26a69a" stroke-width="0.75"/><line x1="646.44" y1="117.0" x2="646.44" y2="129.0" stroke="#26a69a" stroke-width="0.75"/><line x1="648.90" y1="120.0" x2="648.90" y2="126.0" stroke="#26a69a" stroke-width="0.75"/><line x1="651.36" y1="119.0" x2="651.36" y2="126.0" stroke="#26a69a" stroke-width="0.75"/><line x1="653.83" y1="102.0" x2="653.83" y2="125.0" stroke="#26a69a" stroke-width="0.75"/><line x1="656.29" y1="111.0" x2="656.29" y2="122.0" stroke="#ef5350" stroke-width="0.75"/><line x1="658.75" y1="113.0" x2="658.75" y2="134.0" stroke="#ef5350" stroke-width="0.75"/><line x1="661.21" y1="124.0" x2="661.21" y2="134.0" stroke="#26a69a" stroke-width="0.75"/><line x1="663.67" y1="124.5" x2="663.67" y2="153.5" stroke="#ef5350" stroke-width="0.75"/><line x1="666.13" y1="151.5" x2="666.13" y2="170.5" stroke="#ef5350" stroke-width="0.75"/><line x1="668.59" y1="157.5" x2="668.59" y2="164.0" stroke="#26a69a" stroke-width="0.75"/><line x1="671.05" y1="154.8" x2="671.05" y2="161.5" stroke="#26a69a" stroke-width="0.75"/><line x1="673.52" y1="155.5" x2="673.52" y2="162.5" stroke="#ef5350" stroke-width="0.75"/><line x1="675.98" y1="156.5" x2="675.98" y2="161.0" stroke="#26a69a" stroke-width="0.75"/><line x1="678.44" y1="152.2" x2="678.44" y2="159.5" stroke="#ef5350" stroke-width="0.75"/><line x1="680.90" y1="148.9" x2="680.90" y2="159.5" stroke="#26a69a" stroke-width="0.75"/><line x1="683.36" y1="147.6" x2="683.36" y2="157.5" stroke="#26a69a" stroke-width="0.75"/><line x1="685.82" y1="152.5" x2="685.82" y2="157.0" stroke="#26a69a" stroke-width="0.75"/><line x1="688.28" y1="145.0" x2="688.28" y2="160.8" stroke="#26a69a" stroke-width="0.75"/><line x1="690.74" y1="149.6" x2="690.74" y2="156.5" stroke="#ef5350" stroke-width="0.75"/><line x1="693.21" y1="153.0" x2="693.21" y2="157.8" stroke="#ef5350" stroke-width="0.75"/><line x1="695.67" y1="148.5" x2="695.67" y2="157.8" stroke="#26a69a" stroke-width="0.75"/><line x1="698.13" y1="140.0" x2="698.13" y2="155.5" stroke="#26a69a" stroke-width="0.75"/><line x1="700.59" y1="133.1" x2="700.59" y2="151.5" stroke="#ef5350" stroke-width="0.75"/><line x1="703.05" y1="142.5" x2="703.05" y2="151.5" stroke="#26a69a" stroke-width="0.75"/><line x1="705.51" y1="140.5" x2="705.51" y2="148.5" stroke="#26a69a" stroke-width="0.75"/><line x1="707.97" y1="137.5" x2="707.97" y2="147.5" stroke="#26a69a" stroke-width="0.75"/><line x1="710.43" y1="139.5" x2="710.43" y2="153.5" stroke="#ef5350" stroke-width="0.75"/><line x1="712.90" y1="149.5" x2="712.90" y2="160.2" stroke="#ef5350" stroke-width="0.75"/><line x1="715.36" y1="152.8" x2="715.36" y2="159.5" stroke="#26a69a" stroke-width="0.75"/><line x1="717.82" y1="151.5" x2="717.82" y2="158.0" stroke="#26a69a" stroke-width="0.75"/><line x1="720.28" y1="151.5" x2="720.28" y2="160.0" stroke="#ef5350" stroke-width="0.75"/><line x1="722.74" y1="153.5" x2="722.74" y2="160.0" stroke="#26a69a" stroke-width="0.75"/><line x1="725.20" y1="139.0" x2="725.20" y2="156.8" stroke="#26a69a" stroke-width="0.75"/><line x1="727.66" y1="145.5" x2="727.66" y2="152.0" stroke="#ef5350" stroke-width="0.75"/><line x1="730.13" y1="146.5" x2="730.13" y2="152.0" stroke="#ef5350" stroke-width="0.75"/><line x1="732.59" y1="146.0" x2="732.59" y2="151.5" stroke="#26a69a" stroke-width="0.75"/><line x1="735.05" y1="144.5" x2="735.05" y2="152.0" stroke="#ef5350" stroke-width="0.75"/><line x1="737.51" y1="149.5" x2="737.51" y2="154.0" stroke="#ef5350" stroke-width="0.75"/><line x1="739.97" y1="149.8" x2="739.97" y2="153.5" stroke="#ef5350" stroke-width="0.75"/><line x1="742.43" y1="147.8" x2="742.43" y2="152.6" stroke="#26a69a" stroke-width="0.75"/><line x1="744.89" y1="147.0" x2="744.89" y2="151.5" stroke="#26a69a" stroke-width="0.75"/><line x1="747.35" y1="147.5" x2="747.35" y2="151.5" stroke="#ef5350" stroke-width="0.75"/><line x1="749.82" y1="148.5" x2="749.82" y2="152.5" stroke="#ef5350" stroke-width="0.75"/><line x1="752.28" y1="148.5" x2="752.28" y2="153.2" stroke="#26a69a" stroke-width="0.75"/><line x1="754.74" y1="145.0" x2="754.74" y2="151.6" stroke="#26a69a" stroke-width="0.75"/><line x1="757.20" y1="147.3" x2="757.20" y2="158.8" stroke="#ef5350" stroke-width="0.75"/><line x1="759.66" y1="150.3" x2="759.66" y2="162.8" stroke="#26a69a" stroke-width="0.75"/><line x1="762.12" y1="140.0" x2="762.12" y2="152.5" stroke="#26a69a" stroke-width="0.75"/><line x1="764.58" y1="144.0" x2="764.58" y2="148.6" stroke="#ef5350" stroke-width="0.75"/><line x1="767.04" y1="144.5" x2="767.04" y2="149.3" stroke="#26a69a" stroke-width="0.75"/><line x1="769.51" y1="143.0" x2="769.51" y2="154.5" stroke="#ef5350" stroke-width="0.75"/><line x1="771.97" y1="151.2" x2="771.97" y2="160.2" stroke="#ef5350" stroke-width="0.75"/><line x1="774.43" y1="151.2" x2="774.43" y2="159.5" stroke="#26a69a" stroke-width="0.75"/><line x1="776.89" y1="149.3" x2="776.89" y2="176.6" stroke="#ef5350" stroke-width="0.75"/><line x1="779.35" y1="166.0" x2="779.35" y2="173.0" stroke="#26a69a" stroke-width="0.75"/><line x1="781.81" y1="164.8" x2="781.81" y2="171.8" stroke="#ef5350" stroke-width="0.75"/><line x1="784.27" y1="164.2" x2="784.27" y2="183.2" stroke="#26a69a" stroke-width="0.75"/><line x1="786.74" y1="148.5" x2="786.74" y2="167.6" stroke="#26a69a" stroke-width="0.75"/><line x1="789.20" y1="130.0" x2="789.20" y2="156.0" stroke="#26a69a" stroke-width="0.75"/><line x1="791.66" y1="116.0" x2="791.66" y2="137.6" stroke="#ef5350" stroke-width="0.75"/><line x1="794.12" y1="130.5" x2="794.12" y2="139.6" stroke="#ef5350" stroke-width="0.75"/><line x1="796.58" y1="136.5" x2="796.58" y2="147.3" stroke="#ef5350" stroke-width="0.75"/><line x1="799.04" y1="136.4" x2="799.04" y2="151.3" stroke="#ef5350" stroke-width="0.75"/><line x1="801.50" y1="149.3" x2="801.50" y2="167.4" stroke="#ef5350" stroke-width="0.75"/><line x1="803.96" y1="152.5" x2="803.96" y2="162.5" stroke="#26a69a" stroke-width="0.75"/><line x1="806.43" y1="150.3" x2="806.43" y2="158.5" stroke="#26a69a" stroke-width="0.75"/><line x1="808.89" y1="155.0" x2="808.89" y2="163.8" stroke="#ef5350" stroke-width="0.75"/><line x1="811.35" y1="156.2" x2="811.35" y2="165.4" stroke="#26a69a" stroke-width="0.75"/><line x1="813.81" y1="145.0" x2="813.81" y2="159.2" stroke="#26a69a" stroke-width="0.75"/><line x1="816.27" y1="147.0" x2="816.27" y2="158.5" stroke="#26a69a" stroke-width="0.75"/><line x1="818.73" y1="148.3" x2="818.73" y2="157.2" stroke="#ef5350" stroke-width="0.75"/><line x1="821.19" y1="152.5" x2="821.19" y2="159.2" stroke="#ef5350" stroke-width="0.75"/><line x1="823.65" y1="153.0" x2="823.65" y2="158.5" stroke="#26a69a" stroke-width="0.75"/><line x1="826.12" y1="153.6" x2="826.12" y2="158.5" stroke="#ef5350" stroke-width="0.75"/><line x1="828.58" y1="149.0" x2="828.58" y2="158.5" stroke="#26a69a" stroke-width="0.75"/><line x1="831.04" y1="151.8" x2="831.04" y2="166.1" stroke="#ef5350" stroke-width="0.75"/><line x1="833.50" y1="157.0" x2="833.50" y2="172.7" stroke="#26a69a" stroke-width="0.75"/><line x1="835.96" y1="157.0" x2="835.96" y2="161.2" stroke="#ef5350" stroke-width="0.75"/><line x1="838.42" y1="159.0" x2="838.42" y2="163.1" stroke="#ef5350" stroke-width="0.75"/><line x1="840.88" y1="159.8" x2="840.88" y2="163.8" stroke="#ef5350" stroke-width="0.75"/><line x1="843.35" y1="160.3" x2="843.35" y2="165.4" stroke="#ef5350" stroke-width="0.75"/><line x1="845.81" y1="159.5" x2="845.81" y2="163.6" stroke="#26a69a" stroke-width="0.75"/><line x1="848.27" y1="158.5" x2="848.27" y2="162.5" stroke="#26a69a" stroke-width="0.75"/><line x1="850.73" y1="158.0" x2="850.73" y2="162.5" stroke="#ef5350" stroke-width="0.75"/><line x1="853.19" y1="158.0" x2="853.19" y2="162.0" stroke="#26a69a" stroke-width="0.75"/><line x1="855.65" y1="157.3" x2="855.65" y2="162.5" stroke="#ef5350" stroke-width="0.75"/><line x1="858.11" y1="159.0" x2="858.11" y2="165.0" stroke="#ef5350" stroke-width="0.75"/><line x1="860.57" y1="159.0" x2="860.57" y2="165.0" stroke="#26a69a" stroke-width="0.75"/>
<rect x="8.06" y="279.0" width="1.8" height="11.0" fill="#ef5350"/><rect x="10.53" y="288.0" width="1.8" height="32.0" fill="#ef5350"/><rect x="12.99" y="315.0" width="1.8" height="5.0" fill="#ef5350"/><rect x="15.45" y="315.0" width="1.8" height="5.0" fill="#ef5350"/><rect x="17.91" y="314.0" width="1.8" height="6.0" fill="#26a69a"/><rect x="20.37" y="307.0" width="1.8" height="9.0" fill="#26a69a"/><rect x="22.83" y="309.5" width="1.8" height="6.5" fill="#ef5350"/><rect x="25.29" y="314.0" width="1.8" height="2.0" fill="#26a69a"/><rect x="27.75" y="312.0" width="1.8" height="4.0" fill="#26a69a"/><rect x="30.22" y="312.0" width="1.8" height="3.0" fill="#ef5350"/><rect x="32.68" y="299.0" width="1.8" height="15.0" fill="#26a69a"/><rect x="35.14" y="300.0" width="1.8" height="12.0" fill="#ef5350"/><rect x="37.60" y="301.6" width="1.8" height="8.4" fill="#ef5350"/><rect x="40.06" y="299.0" width="1.8" height="13.0" fill="#26a69a"/><rect x="42.52" y="300.0" width="1.8" height="11.0" fill="#26a69a"/><rect x="44.98" y="303.0" width="1.8" height="11.8" fill="#ef5350"/><rect x="47.45" y="303.6" width="1.8" height="9.4" fill="#ef5350"/><rect x="49.91" y="304.0" width="1.8" height="7.5" fill="#26a69a"/><rect x="52.37" y="300.0" width="1.8" height="7.5" fill="#26a69a"/><rect x="54.83" y="296.3" width="1.8" height="5.3" fill="#26a69a"/><rect x="57.29" y="290.4" width="1.8" height="9.2" fill="#26a69a"/><rect x="59.75" y="294.3" width="1.8" height="20.5" fill="#ef5350"/><rect x="62.21" y="305.5" width="1.8" height="8.5" fill="#26a69a"/><rect x="64.67" y="305.0" width="1.8" height="6.5" fill="#26a69a"/><rect x="67.14" y="300.0" width="1.8" height="6.0" fill="#26a69a"/><rect x="69.60" y="303.0" width="1.8" height="4.5" fill="#ef5350"/><rect x="72.06" y="301.6" width="1.8" height="5.9" fill="#26a69a"/><rect x="74.52" y="298.0" width="1.8" height="7.5" fill="#26a69a"/><rect x="76.98" y="303.0" width="1.8" height="10.5" fill="#ef5350"/><rect x="79.44" y="307.0" width="1.8" height="36.0" fill="#ef5350"/><rect x="81.90" y="341.0" width="1.8" height="6.0" fill="#ef5350"/><rect x="84.36" y="345.0" width="1.8" height="5.0" fill="#ef5350"/><rect x="86.83" y="347.0" width="1.8" height="3.0" fill="#26a69a"/><rect x="89.29" y="347.0" width="1.8" height="4.0" fill="#ef5350"/><rect x="91.75" y="327.0" width="1.8" height="24.0" fill="#26a69a"/><rect x="94.21" y="322.0" width="1.8" height="6.0" fill="#26a69a"/><rect x="96.67" y="322.0" width="1.8" height="4.0" fill="#ef5350"/><rect x="99.13" y="321.0" width="1.8" height="5.0" fill="#ef5350"/><rect x="101.59" y="322.0" width="1.8" height="5.0" fill="#ef5350"/><rect x="104.06" y="309.0" width="1.8" height="14.0" fill="#26a69a"/><rect x="106.52" y="285.0" width="1.8" height="26.0" fill="#26a69a"/><rect x="108.98" y="285.0" width="1.8" height="4.0" fill="#ef5350"/><rect x="111.44" y="288.0" width="1.8" height="6.0" fill="#ef5350"/><rect x="113.90" y="275.0" width="1.8" height="16.0" fill="#26a69a"/><rect x="116.36" y="275.0" width="1.8" height="5.0" fill="#ef5350"/><rect x="118.82" y="278.0" width="1.8" height="10.0" fill="#ef5350"/><rect x="121.28" y="280.0" width="1.8" height="5.0" fill="#26a69a"/><rect x="123.75" y="279.0" width="1.8" height="4.0" fill="#26a69a"/><rect x="126.21" y="277.0" width="1.8" height="4.0" fill="#26a69a"/><rect x="128.67" y="276.0" width="1.8" height="4.0" fill="#26a69a"/><rect x="131.13" y="277.0" width="1.8" height="4.0" fill="#ef5350"/><rect x="133.59" y="276.0" width="1.8" height="4.0" fill="#26a69a"/><rect x="136.05" y="273.0" width="1.8" height="5.0" fill="#26a69a"/><rect x="138.51" y="273.0" width="1.8" height="15.0" fill="#ef5350"/><rect x="140.97" y="283.0" width="1.8" height="5.0" fill="#26a69a"/><rect x="143.44" y="282.0" width="1.8" height="3.0" fill="#26a69a"/><rect x="145.90" y="283.0" width="1.8" height="3.0" fill="#ef5350"/><rect x="148.36" y="284.0" width="1.8" height="3.0" fill="#ef5350"/><rect x="150.82" y="263.0" width="1.8" height="24.0" fill="#26a69a"/><rect x="153.28" y="264.0" width="1.8" height="6.0" fill="#26a69a"/><rect x="155.74" y="261.0" width="1.8" height="5.0" fill="#26a69a"/><rect x="158.20" y="261.0" width="1.8" height="4.0" fill="#ef5350"/><rect x="160.66" y="260.0" width="1.8" height="4.0" fill="#26a69a"/><rect x="163.13" y="253.0" width="1.8" height="9.0" fill="#26a69a"/><rect x="165.59" y="210.0" width="1.8" height="46.0" fill="#26a69a"/><rect x="168.05" y="196.0" width="1.8" height="16.0" fill="#26a69a"/><rect x="170.51" y="178.0" width="1.8" height="19.0" fill="#26a69a"/><rect x="172.97" y="168.0" width="1.8" height="11.0" fill="#26a69a"/><rect x="175.43" y="167.0" width="1.8" height="3.0" fill="#26a69a"/><rect x="177.89" y="118.0" width="1.8" height="50.0" fill="#26a69a"/><rect x="180.36" y="113.0" width="1.8" height="15.0" fill="#26a69a"/><rect x="182.82" y="110.0" width="1.8" height="8.0" fill="#ef5350"/><rect x="185.28" y="105.0" width="1.8" height="14.0" fill="#26a69a"/><rect x="187.74" y="104.0" width="1.8" height="12.0" fill="#ef5350"/><rect x="190.20" y="113.0" width="1.8" height="12.0" fill="#ef5350"/><rect x="192.66" y="108.0" width="1.8" height="18.0" fill="#ef5350"/><rect x="195.12" y="109.0" width="1.8" height="17.0" fill="#26a69a"/><rect x="197.58" y="108.0" width="1.8" height="16.0" fill="#26a69a"/><rect x="200.05" y="117.0" width="1.8" height="10.0" fill="#ef5350"/><rect x="202.51" y="118.0" width="1.8" height="5.0" fill="#26a69a"/><rect x="204.97" y="111.0" width="1.8" height="11.0" fill="#26a69a"/><rect x="207.43" y="61.0" width="1.8" height="52.0" fill="#26a69a"/><rect x="209.89" y="60.0" width="1.8" height="18.0" fill="#ef5350"/><rect x="212.35" y="76.0" width="1.8" height="11.0" fill="#ef5350"/><rect x="214.81" y="85.0" width="1.8" height="13.0" fill="#ef5350"/><rect x="217.27" y="84.0" width="1.8" height="8.0" fill="#26a69a"/><rect x="219.74" y="87.0" width="1.8" height="6.0" fill="#26a69a"/><rect x="222.20" y="87.0" width="1.8" height="13.0" fill="#ef5350"/><rect x="224.66" y="87.0" width="1.8" height="13.0" fill="#26a69a"/><rect x="227.12" y="89.0" width="1.8" height="6.0" fill="#ef5350"/><rect x="229.58" y="83.0" width="1.8" height="12.0" fill="#26a69a"/><rect x="232.04" y="84.0" width="1.8" height="2.0" fill="#ef5350"/><rect x="234.50" y="84.0" width="1.8" height="6.0" fill="#ef5350"/><rect x="236.97" y="84.0" width="1.8" height="12.0" fill="#ef5350"/><rect x="239.43" y="89.0" width="1.8" height="14.0" fill="#ef5350"/><rect x="241.89" y="96.0" width="1.8" height="7.0" fill="#26a69a"/><rect x="244.35" y="98.0" width="1.8" height="7.0" fill="#ef5350"/><rect x="246.81" y="100.0" width="1.8" height="10.0" fill="#26a69a"/><rect x="249.27" y="100.0" width="1.8" height="4.0" fill="#ef5350"/><rect x="251.73" y="100.0" width="1.8" height="7.0" fill="#26a69a"/><rect x="254.19" y="99.0" width="1.8" height="9.0" fill="#ef5350"/><rect x="256.66" y="103.0" width="1.8" height="10.0" fill="#26a69a"/><rect x="259.12" y="96.0" width="1.8" height="10.0" fill="#26a69a"/><rect x="261.58" y="100.0" width="1.8" height="3.0" fill="#26a69a"/><rect x="264.04" y="85.0" width="1.8" height="15.0" fill="#26a69a"/><rect x="266.50" y="85.0" width="1.8" height="15.0" fill="#ef5350"/><rect x="268.96" y="84.0" width="1.8" height="12.0" fill="#26a69a"/><rect x="271.42" y="84.0" width="1.8" height="5.0" fill="#26a69a"/><rect x="273.88" y="86.0" width="1.8" height="14.0" fill="#ef5350"/><rect x="276.35" y="96.0" width="1.8" height="14.0" fill="#ef5350"/><rect x="278.81" y="104.0" width="1.8" height="6.0" fill="#26a69a"/><rect x="281.27" y="100.0" width="1.8" height="13.0" fill="#26a69a"/><rect x="283.73" y="98.0" width="1.8" height="15.0" fill="#ef5350"/><rect x="286.19" y="113.0" width="1.8" height="7.0" fill="#ef5350"/><rect x="288.65" y="107.0" width="1.8" height="9.0" fill="#26a69a"/><rect x="291.11" y="101.0" width="1.8" height="10.0" fill="#26a69a"/><rect x="293.58" y="88.0" width="1.8" height="14.0" fill="#26a69a"/><rect x="296.04" y="88.0" width="1.8" height="10.0" fill="#ef5350"/><rect x="298.50" y="90.0" width="1.8" height="10.0" fill="#ef5350"/><rect x="300.96" y="90.0" width="1.8" height="17.0" fill="#ef5350"/><rect x="303.42" y="84.0" width="1.8" height="16.0" fill="#26a69a"/><rect x="305.88" y="76.0" width="1.8" height="8.0" fill="#26a69a"/><rect x="308.34" y="75.0" width="1.8" height="9.0" fill="#26a69a"/><rect x="310.80" y="76.0" width="1.8" height="40.0" fill="#ef5350"/><rect x="313.27" y="96.0" width="1.8" height="20.0" fill="#26a69a"/><rect x="315.73" y="94.0" width="1.8" height="4.0" fill="#26a69a"/><rect x="318.19" y="94.0" width="1.8" height="3.0" fill="#ef5350"/><rect x="320.65" y="95.0" width="1.8" height="4.0" fill="#26a69a"/><rect x="323.11" y="93.0" width="1.8" height="4.0" fill="#26a69a"/><rect x="325.57" y="92.0" width="1.8" height="4.0" fill="#26a69a"/><rect x="328.03" y="91.0" width="1.8" height="3.0" fill="#26a69a"/><rect x="330.49" y="90.0" width="1.8" height="2.0" fill="#ef5350"/><rect x="332.96" y="91.0" width="1.8" height="4.0" fill="#ef5350"/><rect x="335.42" y="93.0" width="1.8" height="3.0" fill="#26a69a"/><rect x="337.88" y="93.0" width="1.8" height="3.0" fill="#26a69a"/><rect x="340.34" y="93.0" width="1.8" height="4.0" fill="#ef5350"/><rect x="342.80" y="86.0" width="1.8" height="10.0" fill="#26a69a"/><rect x="345.26" y="83.0" width="1.8" height="7.0" fill="#26a69a"/><rect x="347.72" y="82.0" width="1.8" height="8.0" fill="#26a69a"/><rect x="350.19" y="84.0" width="1.8" height="5.0" fill="#ef5350"/><rect x="352.65" y="86.0" width="1.8" height="4.0" fill="#26a69a"/><rect x="355.11" y="65.0" width="1.8" height="25.0" fill="#26a69a"/><rect x="357.57" y="61.0" width="1.8" height="9.0" fill="#26a69a"/><rect x="360.03" y="60.0" width="1.8" height="6.0" fill="#ef5350"/><rect x="362.49" y="62.0" width="1.8" height="3.0" fill="#26a69a"/><rect x="364.95" y="63.0" width="1.8" height="14.0" fill="#ef5350"/><rect x="367.41" y="70.0" width="1.8" height="7.0" fill="#ef5350"/><rect x="369.88" y="69.0" width="1.8" height="7.0" fill="#26a69a"/><rect x="372.34" y="72.0" width="1.8" height="15.0" fill="#ef5350"/><rect x="374.80" y="81.0" width="1.8" height="6.0" fill="#26a69a"/><rect x="377.26" y="78.0" width="1.8" height="5.0" fill="#26a69a"/><rect x="379.72" y="78.0" width="1.8" height="4.0" fill="#ef5350"/><rect x="382.18" y="82.0" width="1.8" height="19.0" fill="#ef5350"/><rect x="384.64" y="98.0" width="1.8" height="4.0" fill="#ef5350"/><rect x="387.10" y="98.0" width="1.8" height="4.0" fill="#26a69a"/><rect x="389.57" y="94.0" width="1.8" height="6.0" fill="#26a69a"/><rect x="392.03" y="94.0" width="1.8" height="3.0" fill="#ef5350"/><rect x="394.49" y="80.0" width="1.8" height="17.0" fill="#26a69a"/><rect x="396.95" y="79.0" width="1.8" height="9.0" fill="#26a69a"/><rect x="399.41" y="78.0" width="1.8" height="22.0" fill="#ef5350"/><rect x="401.87" y="99.0" width="1.8" height="11.0" fill="#ef5350"/><rect x="404.33" y="104.0" width="1.8" height="20.0" fill="#ef5350"/><rect x="406.80" y="112.0" width="1.8" height="12.0" fill="#26a69a"/><rect x="409.26" y="112.0" width="1.8" height="7.0" fill="#ef5350"/><rect x="411.72" y="112.0" width="1.8" height="7.0" fill="#26a69a"/><rect x="414.18" y="99.0" width="1.8" height="14.0" fill="#26a69a"/><rect x="416.64" y="99.0" width="1.8" height="9.0" fill="#ef5350"/><rect x="419.10" y="102.0" width="1.8" height="5.0" fill="#ef5350"/><rect x="421.56" y="104.0" width="1.8" height="2.0" fill="#ef5350"/><rect x="424.02" y="106.0" width="1.8" height="4.0" fill="#ef5350"/><rect x="426.49" y="108.0" width="1.8" height="2.0" fill="#26a69a"/><rect x="428.95" y="108.0" width="1.8" height="3.0" fill="#ef5350"/><rect x="431.41" y="106.0" width="1.8" height="9.0" fill="#26a69a"/><rect x="433.87" y="104.0" width="1.8" height="10.0" fill="#26a69a"/><rect x="436.33" y="100.0" width="1.8" height="6.0" fill="#26a69a"/><rect x="438.79" y="104.0" width="1.8" height="3.0" fill="#ef5350"/><rect x="441.25" y="104.0" width="1.8" height="3.0" fill="#26a69a"/><rect x="443.71" y="99.0" width="1.8" height="9.0" fill="#26a69a"/><rect x="446.18" y="102.0" width="1.8" height="6.0" fill="#ef5350"/><rect x="448.64" y="107.0" width="1.8" height="5.0" fill="#ef5350"/><rect x="451.10" y="111.0" width="1.8" height="9.0" fill="#ef5350"/><rect x="453.56" y="111.0" width="1.8" height="3.0" fill="#ef5350"/><rect x="456.02" y="107.0" width="1.8" height="11.0" fill="#26a69a"/><rect x="458.48" y="103.0" width="1.8" height="7.0" fill="#26a69a"/><rect x="460.94" y="80.0" width="1.8" height="24.0" fill="#26a69a"/><rect x="463.40" y="80.0" width="1.8" height="20.0" fill="#ef5350"/><rect x="465.87" y="94.0" width="1.8" height="6.0" fill="#26a69a"/><rect x="468.33" y="88.0" width="1.8" height="10.0" fill="#26a69a"/><rect x="470.79" y="93.0" width="1.8" height="9.0" fill="#26a69a"/><rect x="473.25" y="92.0" width="1.8" height="9.0" fill="#26a69a"/><rect x="475.71" y="86.0" width="1.8" height="6.0" fill="#26a69a"/><rect x="478.17" y="90.0" width="1.8" height="3.0" fill="#ef5350"/><rect x="480.63" y="88.0" width="1.8" height="6.0" fill="#26a69a"/><rect x="483.10" y="80.0" width="1.8" height="10.0" fill="#26a69a"/><rect x="485.56" y="81.0" width="1.8" height="7.0" fill="#26a69a"/><rect x="488.02" y="82.0" width="1.8" height="13.0" fill="#ef5350"/><rect x="490.48" y="94.0" width="1.8" height="13.0" fill="#ef5350"/><rect x="492.94" y="101.0" width="1.8" height="5.0" fill="#26a69a"/><rect x="495.40" y="99.0" width="1.8" height="6.0" fill="#ef5350"/><rect x="497.86" y="99.0" width="1.8" height="8.0" fill="#26a69a"/><rect x="500.32" y="93.0" width="1.8" height="8.0" fill="#26a69a"/><rect x="502.79" y="76.0" width="1.8" height="20.0" fill="#26a69a"/><rect x="505.25" y="44.0" width="1.8" height="33.0" fill="#26a69a"/><rect x="507.71" y="44.0" width="1.8" height="7.0" fill="#ef5350"/><rect x="510.17" y="49.0" width="1.8" height="3.0" fill="#26a69a"/><rect x="512.63" y="51.0" width="1.8" height="17.0" fill="#ef5350"/><rect x="515.09" y="60.0" width="1.8" height="8.0" fill="#26a69a"/><rect x="517.55" y="56.0" width="1.8" height="13.0" fill="#26a69a"/><rect x="520.01" y="60.0" width="1.8" height="53.0" fill="#ef5350"/><rect x="522.48" y="104.0" width="1.8" height="10.0" fill="#26a69a"/><rect x="524.94" y="103.0" width="1.8" height="3.0" fill="#26a69a"/><rect x="527.40" y="103.0" width="1.8" height="3.0" fill="#ef5350"/><rect x="529.86" y="103.0" width="1.8" height="3.0" fill="#26a69a"/><rect x="532.32" y="103.0" width="1.8" height="3.0" fill="#26a69a"/><rect x="534.78" y="103.0" width="1.8" height="3.0" fill="#ef5350"/><rect x="537.24" y="104.0" width="1.8" height="2.0" fill="#26a69a"/><rect x="539.71" y="105.0" width="1.8" height="5.0" fill="#ef5350"/><rect x="542.17" y="105.0" width="1.8" height="6.0" fill="#26a69a"/><rect x="544.63" y="102.0" width="1.8" height="5.0" fill="#26a69a"/><rect x="547.09" y="100.0" width="1.8" height="5.0" fill="#26a69a"/><rect x="549.55" y="101.0" width="1.8" height="7.0" fill="#ef5350"/><rect x="552.01" y="104.0" width="1.8" height="6.0" fill="#26a69a"/><rect x="554.47" y="104.0" width="1.8" height="5.0" fill="#ef5350"/><rect x="556.93" y="105.0" width="1.8" height="4.0" fill="#26a69a"/><rect x="559.40" y="104.5" width="1.8" height="7.1" fill="#ef5350"/><rect x="561.86" y="104.5" width="1.8" height="6.2" fill="#26a69a"/><rect x="564.32" y="110.0" width="1.8" height="15.0" fill="#ef5350"/><rect x="566.78" y="112.0" width="1.8" height="11.9" fill="#26a69a"/><rect x="569.24" y="107.0" width="1.8" height="9.0" fill="#ef5350"/><rect x="571.70" y="113.0" width="1.8" height="8.0" fill="#ef5350"/><rect x="574.16" y="114.0" width="1.8" height="12.0" fill="#ef5350"/><rect x="576.62" y="122.1" width="1.8" height="1.4" fill="#26a69a"/><rect x="579.09" y="121.0" width="1.8" height="11.0" fill="#ef5350"/><rect x="581.55" y="125.0" width="1.8" height="7.0" fill="#26a69a"/><rect x="584.01" y="115.0" width="1.8" height="11.0" fill="#26a69a"/><rect x="586.47" y="115.0" width="1.8" height="4.0" fill="#ef5350"/><rect x="588.93" y="116.0" width="1.8" height="4.0" fill="#26a69a"/><rect x="591.39" y="117.0" width="1.8" height="4.0" fill="#ef5350"/><rect x="593.85" y="114.0" width="1.8" height="7.0" fill="#26a69a"/><rect x="596.32" y="116.0" width="1.8" height="9.0" fill="#ef5350"/><rect x="598.78" y="117.0" width="1.8" height="6.0" fill="#26a69a"/><rect x="601.24" y="108.0" width="1.8" height="13.0" fill="#26a69a"/><rect x="603.70" y="104.0" width="1.8" height="6.0" fill="#26a69a"/><rect x="606.16" y="104.0" width="1.8" height="24.0" fill="#ef5350"/><rect x="608.62" y="127.0" width="1.8" height="4.0" fill="#ef5350"/><rect x="611.08" y="127.0" width="1.8" height="4.0" fill="#26a69a"/><rect x="613.54" y="121.0" width="1.8" height="8.0" fill="#26a69a"/><rect x="616.01" y="123.0" width="1.8" height="7.0" fill="#ef5350"/><rect x="618.47" y="128.0" width="1.8" height="2.0" fill="#ef5350"/><rect x="620.93" y="124.0" width="1.8" height="5.0" fill="#26a69a"/><rect x="623.39" y="123.0" width="1.8" height="4.0" fill="#26a69a"/><rect x="625.85" y="121.0" width="1.8" height="4.0" fill="#26a69a"/><rect x="628.31" y="119.0" width="1.8" height="4.0" fill="#26a69a"/><rect x="630.77" y="120.0" width="1.8" height="2.5" fill="#ef5350"/><rect x="633.23" y="120.0" width="1.8" height="4.0" fill="#ef5350"/><rect x="635.70" y="123.0" width="1.8" height="2.0" fill="#ef5350"/><rect x="638.16" y="123.0" width="1.8" height="4.0" fill="#ef5350"/><rect x="640.62" y="126.0" width="1.8" height="2.0" fill="#ef5350"/><rect x="643.08" y="124.0" width="1.8" height="6.0" fill="#26a69a"/><rect x="645.54" y="119.0" width="1.8" height="8.0" fill="#26a69a"/><rect x="648.00" y="122.0" width="1.8" height="2.0" fill="#26a69a"/><rect x="650.46" y="121.0" width="1.8" height="3.0" fill="#26a69a"/><rect x="652.93" y="114.0" width="1.8" height="9.0" fill="#26a69a"/><rect x="655.39" y="114.0" width="1.8" height="6.0" fill="#ef5350"/><rect x="657.85" y="115.0" width="1.8" height="18.0" fill="#ef5350"/><rect x="660.31" y="125.8" width="1.8" height="6.6" fill="#26a69a"/><rect x="662.77" y="125.8" width="1.8" height="27.1" fill="#ef5350"/><rect x="665.23" y="152.2" width="1.8" height="8.6" fill="#ef5350"/><rect x="667.69" y="158.8" width="1.8" height="2.7" fill="#26a69a"/><rect x="670.15" y="155.5" width="1.8" height="5.3" fill="#26a69a"/><rect x="672.62" y="156.2" width="1.8" height="5.3" fill="#ef5350"/><rect x="675.08" y="157.5" width="1.8" height="2.5" fill="#26a69a"/><rect x="677.54" y="156.8" width="1.8" height="2.0" fill="#ef5350"/><rect x="680.00" y="156.2" width="1.8" height="2.6" fill="#26a69a"/><rect x="682.46" y="154.9" width="1.8" height="1.7" fill="#26a69a"/><rect x="684.92" y="154.2" width="1.8" height="1.6" fill="#26a69a"/><rect x="687.38" y="153.3" width="1.8" height="2.2" fill="#26a69a"/><rect x="689.84" y="153.5" width="1.8" height="2.0" fill="#ef5350"/><rect x="692.31" y="154.2" width="1.8" height="2.6" fill="#ef5350"/><rect x="694.77" y="149.6" width="1.8" height="7.2" fill="#26a69a"/><rect x="697.23" y="141.2" width="1.8" height="8.4" fill="#26a69a"/><rect x="699.69" y="145.6" width="1.8" height="4.0" fill="#ef5350"/><rect x="702.15" y="143.6" width="1.8" height="6.6" fill="#26a69a"/><rect x="704.61" y="141.7" width="1.8" height="5.3" fill="#26a69a"/><rect x="707.07" y="139.0" width="1.8" height="7.3" fill="#26a69a"/><rect x="709.53" y="141.0" width="1.8" height="11.2" fill="#ef5350"/><rect x="712.00" y="150.9" width="1.8" height="7.3" fill="#ef5350"/><rect x="714.46" y="154.2" width="1.8" height="4.0" fill="#26a69a"/><rect x="716.92" y="153.0" width="1.8" height="3.5" fill="#26a69a"/><rect x="719.38" y="152.9" width="1.8" height="5.9" fill="#ef5350"/><rect x="721.84" y="154.9" width="1.8" height="3.9" fill="#26a69a"/><rect x="724.30" y="146.9" width="1.8" height="8.6" fill="#26a69a"/><rect x="726.76" y="146.9" width="1.8" height="4.0" fill="#ef5350"/><rect x="729.23" y="148.2" width="1.8" height="2.7" fill="#ef5350"/><rect x="731.69" y="147.6" width="1.8" height="2.6" fill="#26a69a"/><rect x="734.15" y="145.6" width="1.8" height="5.3" fill="#ef5350"/><rect x="736.61" y="150.9" width="1.8" height="2.0" fill="#ef5350"/><rect x="739.07" y="150.9" width="1.8" height="1.6" fill="#ef5350"/><rect x="741.53" y="148.9" width="1.8" height="2.7" fill="#26a69a"/><rect x="743.99" y="148.2" width="1.8" height="2.0" fill="#26a69a"/><rect x="746.45" y="148.9" width="1.8" height="1.3" fill="#ef5350"/><rect x="748.92" y="149.6" width="1.8" height="1.6" fill="#ef5350"/><rect x="751.38" y="149.6" width="1.8" height="2.6" fill="#26a69a"/><rect x="753.84" y="147.6" width="1.8" height="3.3" fill="#26a69a"/><rect x="756.30" y="148.3" width="1.8" height="7.2" fill="#ef5350"/><rect x="758.76" y="151.6" width="1.8" height="3.9" fill="#26a69a"/><rect x="761.22" y="145.0" width="1.8" height="6.6" fill="#26a69a"/><rect x="763.68" y="145.0" width="1.8" height="2.6" fill="#ef5350"/><rect x="766.14" y="145.6" width="1.8" height="2.7" fill="#26a69a"/><rect x="768.61" y="145.0" width="1.8" height="8.6" fill="#ef5350"/><rect x="771.07" y="152.2" width="1.8" height="6.6" fill="#ef5350"/><rect x="773.53" y="152.2" width="1.8" height="6.0" fill="#26a69a"/><rect x="775.99" y="150.3" width="1.8" height="22.4" fill="#ef5350"/><rect x="778.45" y="167.4" width="1.8" height="4.6" fill="#26a69a"/><rect x="780.91" y="166.7" width="1.8" height="4.0" fill="#ef5350"/><rect x="783.37" y="165.4" width="1.8" height="5.3" fill="#26a69a"/><rect x="785.84" y="149.6" width="1.8" height="17.1" fill="#26a69a"/><rect x="788.30" y="131.1" width="1.8" height="23.8" fill="#26a69a"/><rect x="790.76" y="131.8" width="1.8" height="4.6" fill="#ef5350"/><rect x="793.22" y="131.8" width="1.8" height="6.6" fill="#ef5350"/><rect x="795.68" y="137.7" width="1.8" height="8.6" fill="#ef5350"/><rect x="798.14" y="137.7" width="1.8" height="12.6" fill="#ef5350"/><rect x="800.60" y="150.3" width="1.8" height="6.6" fill="#ef5350"/><rect x="803.06" y="153.6" width="1.8" height="7.9" fill="#26a69a"/><rect x="805.53" y="151.6" width="1.8" height="5.9" fill="#26a69a"/><rect x="807.99" y="156.2" width="1.8" height="6.6" fill="#ef5350"/><rect x="810.45" y="157.5" width="1.8" height="5.3" fill="#26a69a"/><rect x="812.91" y="151.6" width="1.8" height="6.6" fill="#26a69a"/><rect x="815.37" y="150.3" width="1.8" height="7.2" fill="#26a69a"/><rect x="817.83" y="150.3" width="1.8" height="5.9" fill="#ef5350"/><rect x="820.29" y="153.6" width="1.8" height="4.6" fill="#ef5350"/><rect x="822.75" y="154.2" width="1.8" height="3.3" fill="#26a69a"/><rect x="825.22" y="154.9" width="1.8" height="2.6" fill="#ef5350"/><rect x="827.68" y="152.2" width="1.8" height="5.3" fill="#26a69a"/><rect x="830.14" y="152.9" width="1.8" height="11.2" fill="#ef5350"/><rect x="832.60" y="158.2" width="1.8" height="5.9" fill="#26a69a"/><rect x="835.06" y="158.2" width="1.8" height="2.0" fill="#ef5350"/><rect x="837.52" y="160.2" width="1.8" height="1.9" fill="#ef5350"/><rect x="839.98" y="160.8" width="1.8" height="2.0" fill="#ef5350"/><rect x="842.45" y="161.5" width="1.8" height="2.0" fill="#ef5350"/><rect x="844.91" y="160.5" width="1.8" height="2.3" fill="#26a69a"/><rect x="847.37" y="159.5" width="1.8" height="2.0" fill="#26a69a"/><rect x="849.83" y="159.0" width="1.8" height="2.5" fill="#ef5350"/><rect x="852.29" y="159.0" width="1.8" height="2.0" fill="#26a69a"/><rect x="854.75" y="158.3" width="1.8" height="3.2" fill="#ef5350"/><rect x="857.21" y="160.0" width="1.8" height="4.0" fill="#ef5350"/><rect x="859.67" y="160.0" width="1.8" height="4.0" fill="#26a69a"/>
</g>
<polyline points="7.3,465.0 10.3,491.3 13.0,488.0 15.3,489.7 18.3,482.0 20.6,478.7 22.9,482.0 25.6,481.5 28.6,477.6 30.2,478.7 33.2,464.5 35.5,469.6 37.8,474.6 40.0,474.0 42.4,463.9 45.1,470.7 48.0,470.3 52.7,457.7 55.0,456.3 57.2,450.8 60.2,471.9 63.0,465.0 67.5,460.4 69.8,465.0 72.8,460.0 75.0,459.3 77.2,465.0 80.1,493.6 82.4,495.9 84.7,497.5 87.5,495.9 89.3,497.0 92.0,469.6 95.0,462.2 98.4,464.5 101.2,466.8 104.2,449.0 106.9,432.5 111.0,438.0 114.5,429.5 119.0,438.2 123.6,435.2 128.7,432.5 131.6,437.5 136.2,432.3 138.5,451.3 141.9,447.8 145.4,446.2 148.8,446.0 151.1,434.1 153.8,428.4 155.7,426.5 158.4,431.3 161.4,427.2 163.7,420.4 166.0,401.4 168.3,397.5 171.2,392.9 175.1,391.0 178.1,384.4 180.9,383.3 183.2,388.8 185.4,387.6 187.7,395.2 190.5,405.0 193.0,408.4 195.7,404.3 198.0,418.8 200.3,417.4 202.6,420.4 205.4,416.9 207.9,403.2 210.2,414.6 212.6,422.0 215.0,422.6 217.4,427.2 219.8,426.1 222.6,435.7 225.3,431.8 227.6,434.8 230.1,431.1 234.7,432.3 239.8,443.9 242.5,443.2 244.8,449.4 247.3,446.7 249.6,449.0 251.9,446.2 254.6,454.0 256.9,453.1 259.7,449.4 262.0,447.8 264.3,436.8 266.8,447.4 269.5,442.1 271.8,441.0 274.1,450.1 276.8,463.2 279.4,458.1 282.1,454.7 284.0,466.8 286.7,467.7 289.4,463.2 292.0,454.7 294.2,443.9 296.3,452.4 299.3,449.4 301.6,454.2 303.9,444.4 306.6,443.2 309.1,438.7 311.0,470.3 313.5,460.4 316.0,457.0 318.7,459.3 323.8,454.7 328.4,451.7 331.3,453.1 333.6,456.3 338.2,455.2 341.0,457.4 345.5,451.3 348.0,444.4 350.8,450.8 353.1,452.4 355.8,432.9 358.1,426.1 360.4,432.3 363.4,431.8 365.7,447.8 368.0,442.6 370.3,449.0 373.0,460.9 375.3,458.1 377.6,453.1 379.9,457.0 382.8,474.2 385.1,475.8 387.4,472.3 390.2,468.0 392.5,467.3 395.0,451.7 397.3,450.3 400.0,470.7 402.3,473.7 404.6,487.4 407.3,475.3 409.9,478.7 412.2,473.0 414.9,462.7 417.2,467.3 419.5,463.9 421.8,465.0 424.4,469.1 429.2,468.7 431.9,472.6 434.9,463.2 439.5,464.3 441.7,463.9 444.0,458.8 447.0,465.5 449.3,469.6 451.6,470.3 454.3,472.6 456.6,465.0 458.9,458.1 461.4,431.3 464.6,455.4 466.9,452.4 469.2,450.6 471.5,457.0 473.8,448.5 476.8,449.0 479.1,447.4 481.4,449.4 484.1,441.6 486.4,440.3 488.7,454.7 491.0,468.4 493.7,463.2 496.2,466.8 498.5,461.6 500.8,452.4 503.1,438.7 505.9,419.2 508.1,426.1 510.9,426.8 513.2,444.4 515.5,440.3 518.0,439.8 520.7,477.1 523.5,471.2 526.0,470.7 528.3,469.6 532.2,470.3 535.6,469.6 537.9,471.4 540.6,474.8 544.8,469.1 547.7,465.0 550.5,470.3 552.8,471.4 555.5,466.8 558.0,468.0 560.1,474.2 562.6,473.5 564.7,486.1 567.7,470.3 570.0,472.3 572.7,477.6 575.0,481.0 577.5,478.7 579.8,487.2 582.5,475.3 584.8,465.5 587.1,468.0 589.4,467.3 591.7,470.3 594.4,464.5 597.4,471.9 599.7,469.1 602.5,453.1 604.8,449.4 607.0,473.0 609.6,475.3 611.9,472.6 614.6,467.3 616.9,473.5 618.7,472.6 621.5,466.8 623.8,466.1 626.0,464.5 628.8,464.3 631.8,461.6 634.1,465.2 636.4,464.4 639.4,470.0 641.4,472.3 643.7,467.3 646.0,460.4 648.3,462.7 651.3,462.2 653.6,445.1 656.3,446.2 658.6,475.3 661.1,466.1 663.9,492.5 665.9,497.5 668.2,495.9 671.2,491.3 673.5,493.2 675.8,490.9 678.5,491.3 681.5,486.7 683.8,485.6 686.1,482.9 688.8,481.5 690.7,482.6 693.0,485.1 695.7,470.7 698.2,463.4 700.5,466.8 703.3,462.2 705.5,461.6 707.8,452.9 710.6,471.4 712.4,478.7 715.4,473.0 717.7,470.7 720.0,478.3 722.7,470.7 725.5,457.0 727.8,462.2 730.0,462.2 732.3,457.4 734.9,463.9 737.6,466.1 739.9,463.4 742.6,459.3 745.2,458.1 747.2,461.6 749.5,463.9 752.5,461.6 754.8,457.4 757.5,472.6 759.8,461.6 762.1,450.1 764.6,454.2 766.7,451.9 769.7,467.3 771.9,474.2 774.2,466.8 777.0,491.3 779.3,482.2 781.6,485.1 784.1,477.6 786.8,449.0 789.1,435.2 791.4,439.4 793.7,443.7 796.4,444.8 799.0,457.0 801.2,467.3 803.5,465.5 806.3,465.7 809.0,472.6 811.3,466.1 813.6,459.3 816.1,457.5 818.9,463.2 821.2,465.0 823.9,461.6 826.2,464.0 828.5,456.9 831.0,472.2 833.3,466.1 836.0,467.5 838.8,470.0 842.9,470.7 846.3,468.4 850.0,467.8 852.5,465.3 855.6,467.0 858.1,472.8 860.3,463.6" fill="none" stroke="#7e57c2" stroke-width="1.45" stroke-linejoin="round"/>
<g stroke="#e9ebf1" stroke-width="1" fill="none" shape-rendering="crispEdges">
<rect x="6.5" y="17.5" width="947.0" height="507.0"/>
<line x1="908.5" y1="39" x2="908.5" y2="524.5"/>
<line x1="6.5" y1="376.5" x2="953.5" y2="376.5"/>
<line x1="6.5" y1="505.5" x2="953.5" y2="505.5"/>
</g>
<text x="7" y="11.7" fill="#131722" textLength="244.6" lengthAdjust="spacingAndGlyphs">ranadagger published on TradingView.com, Aug 06, 2023 17:01 UTC</text>
<text x="12.5" y="29.7" fill="#131722" textLength="117.2" lengthAdjust="spacingAndGlyphs">Bitcoin / TetherUS, 4h, BINANCE</text>
<text x="135.4" y="29.7" fill="#131722" textLength="5.2" lengthAdjust="spacingAndGlyphs">O</text>
<text x="141" y="29.7" fill="#26a69a" textLength="32.3" lengthAdjust="spacingAndGlyphs">29012.92</text>
<text x="179" y="29.7" fill="#131722" textLength="4.6" lengthAdjust="spacingAndGlyphs">H</text>
<text x="183.6" y="29.7" fill="#26a69a" textLength="32.3" lengthAdjust="spacingAndGlyphs">29089.99</text>
<text x="221.4" y="29.7" fill="#131722" textLength="3.8" lengthAdjust="spacingAndGlyphs">L</text>
<text x="225.4" y="29.7" fill="#26a69a" textLength="32.6" lengthAdjust="spacingAndGlyphs">29000.52</text>
<text x="263.2" y="29.7" fill="#131722" textLength="4.8" lengthAdjust="spacingAndGlyphs">C</text>
<text x="268" y="29.7" fill="#26a69a" textLength="32.5" lengthAdjust="spacingAndGlyphs">29088.00</text>
<text x="306.5" y="29.7" fill="#26a69a" textLength="56.7" lengthAdjust="spacingAndGlyphs">+75.07 (+0.26%)</text>
<text x="12.5" y="41.8" fill="#131722" textLength="64.8" lengthAdjust="spacingAndGlyphs">EMA (20, close, 0)</text>
<text x="82.7" y="41.8" fill="#2140b0" textLength="32.3" lengthAdjust="spacingAndGlyphs">29111.65</text>
<text x="12.5" y="53.2" fill="#131722" textLength="60.7" lengthAdjust="spacingAndGlyphs">MA (50, close, 0)</text>
<text x="78.5" y="53.2" fill="#f23645" textLength="32.5" lengthAdjust="spacingAndGlyphs">29207.19</text>
<text x="12.5" y="390.3" fill="#131722" textLength="51.2" lengthAdjust="spacingAndGlyphs">RSI (14, close)</text>
<text x="69" y="390.3" fill="#7e57c2" textLength="20" lengthAdjust="spacingAndGlyphs">47.17</text>
<rect x="911.5" y="20" width="39" height="16.5" rx="3" ry="3" fill="#fff" stroke="#e9ebf1" stroke-width="1"/>
<text x="917.6" y="31.9" fill="#131722" textLength="18.2" lengthAdjust="spacingAndGlyphs">USDT</text>
<text x="913.9" y="52.4" fill="#131722" textLength="33.1" lengthAdjust="spacingAndGlyphs">31500.00</text>
<text x="913.9" y="98.5" fill="#131722" textLength="33.1" lengthAdjust="spacingAndGlyphs">30500.00</text>
<text x="913.9" y="121.5" fill="#131722" textLength="33.1" lengthAdjust="spacingAndGlyphs">30000.00</text>
<text x="913.9" y="213.5" fill="#131722" textLength="33.1" lengthAdjust="spacingAndGlyphs">28000.00</text>
<text x="913.9" y="236.5" fill="#131722" textLength="33.1" lengthAdjust="spacingAndGlyphs">27500.00</text>
<text x="913.9" y="259.4" fill="#131722" textLength="33.1" lengthAdjust="spacingAndGlyphs">27000.00</text>
<text x="913.9" y="282.4" fill="#131722" textLength="33.1" lengthAdjust="spacingAndGlyphs">26500.00</text>
<text x="913.9" y="305.4" fill="#131722" textLength="33.1" lengthAdjust="spacingAndGlyphs">26000.00</text>
<text x="913.9" y="328.4" fill="#131722" textLength="33.1" lengthAdjust="spacingAndGlyphs">25500.00</text>
<text x="913.9" y="351.4" fill="#131722" textLength="33.1" lengthAdjust="spacingAndGlyphs">25000.00</text>
<text x="913.9" y="374.4" fill="#131722" textLength="33.1" lengthAdjust="spacingAndGlyphs">24500.00</text>
<text x="913.7" y="408.3" fill="#131722" textLength="20.2" lengthAdjust="spacingAndGlyphs">80.00</text>
<text x="913.7" y="444.3" fill="#131722" textLength="20.2" lengthAdjust="spacingAndGlyphs">60.00</text>
<text x="913.7" y="480.3" fill="#131722" textLength="20.2" lengthAdjust="spacingAndGlyphs">40.00</text>
<rect x="908.5" y="67" width="42.10000000000002" height="11.099999999999994" rx="1.2" fill="#0a0aff"/>
<text x="913.9" y="75.7" fill="#fff" textLength="33.1" lengthAdjust="spacingAndGlyphs" stroke="#fff" stroke-width="0.25">31000.00</text>
<rect x="891.1" y="132" width="59.5" height="11.099999999999994" rx="1.2" fill="#f23645"/>
<line x1="908.3" y1="132" x2="908.3" y2="143.1" stroke="#fff" stroke-opacity="0.35" stroke-width="0.8"/>
<text x="893.7" y="140.70000000000002" fill="#fff" textLength="11.3" lengthAdjust="spacingAndGlyphs" stroke="#fff" stroke-width="0.25">MA</text>
<text x="913.9" y="140.70000000000002" fill="#fff" textLength="33.1" lengthAdjust="spacingAndGlyphs" stroke="#fff" stroke-width="0.25">29207.19</text>
<rect x="886" y="143.3" width="64.60000000000002" height="11.5" rx="1.2" fill="#15309a"/>
<line x1="908.3" y1="143.3" x2="908.3" y2="154.8" stroke="#fff" stroke-opacity="0.35" stroke-width="0.8"/>
<text x="889.4" y="152.20000000000002" fill="#fff" textLength="15.6" lengthAdjust="spacingAndGlyphs" stroke="#fff" stroke-width="0.25">EMA</text>
<text x="913.9" y="152.20000000000002" fill="#fff" textLength="33.1" lengthAdjust="spacingAndGlyphs" stroke="#fff" stroke-width="0.25">29111.65</text>
<rect x="868.4" y="155" width="82.20000000000005" height="10.800000000000011" rx="1.2" fill="#26a69a"/>
<line x1="908.3" y1="155" x2="908.3" y2="165.8" stroke="#fff" stroke-opacity="0.35" stroke-width="0.8"/>
<text x="871.8" y="163.55" fill="#fff" textLength="32.5" lengthAdjust="spacingAndGlyphs" stroke="#fff" stroke-width="0.25">BTCUSDT</text>
<rect x="908.5" y="155" width="42.10000000000002" height="29.8" rx="1.2" fill="#26a69a"/>
<text x="913.9" y="163.8" fill="#fff" textLength="33.1" lengthAdjust="spacingAndGlyphs" stroke="#fff" stroke-width="0.25">29088.00</text>
<text x="913.9" y="173.6" fill="#fff" textLength="25.6" lengthAdjust="spacingAndGlyphs" fill-opacity="0.75" stroke="#fff" stroke-width="0.25" stroke-opacity="0.75">+9.86%</text>
<text x="913.9" y="183.1" fill="#fff" textLength="33.1" lengthAdjust="spacingAndGlyphs" fill-opacity="0.75" stroke="#fff" stroke-width="0.25" stroke-opacity="0.75">02:58:55</text>
<rect x="908.5" y="185.4" width="42.10000000000002" height="11.400000000000006" rx="1.2" fill="#0a0aff"/>
<text x="913.9" y="194.25000000000003" fill="#fff" textLength="33.1" lengthAdjust="spacingAndGlyphs" stroke="#fff" stroke-width="0.25">28861.00</text>
<rect x="908.5" y="353" width="42.10000000000002" height="11.199999999999989" rx="1.2" fill="#0a0aff"/>
<text x="913.9" y="361.75" fill="#fff" textLength="33.1" lengthAdjust="spacingAndGlyphs" stroke="#fff" stroke-width="0.25">24800.00</text>
<rect x="890.1" y="458.5" width="47.69999999999993" height="11.5" rx="1.2" fill="#7e57c2"/>
<line x1="908.3" y1="458.5" x2="908.3" y2="470" stroke="#fff" stroke-opacity="0.35" stroke-width="0.8"/>
<text x="893.3" y="467.6" fill="#fff" textLength="11.5" lengthAdjust="spacingAndGlyphs" stroke="#fff" stroke-width="0.25">RSI</text>
<text x="913.7" y="467.6" fill="#fff" textLength="20.2" lengthAdjust="spacingAndGlyphs" stroke="#fff" stroke-width="0.25">47.17</text>
<text x="34.4" y="517.8" fill="#131722" textLength="8.2" lengthAdjust="spacingAndGlyphs">12</text>
<text x="137.8" y="517.8" fill="#131722" textLength="8.2" lengthAdjust="spacingAndGlyphs">19</text>
<text x="241.2" y="517.8" fill="#131722" textLength="8.2" lengthAdjust="spacingAndGlyphs">26</text>
<text x="313.2" y="517.8" fill="#131722" textLength="11.7" lengthAdjust="spacingAndGlyphs" font-weight="bold">Jul</text>
<text x="376.1" y="517.8" fill="#131722" textLength="4.1" lengthAdjust="spacingAndGlyphs">5</text>
<text x="447.9" y="517.8" fill="#131722" textLength="8.2" lengthAdjust="spacingAndGlyphs">10</text>
<text x="551.3" y="517.8" fill="#131722" textLength="8.2" lengthAdjust="spacingAndGlyphs">17</text>
<text x="654.7" y="517.8" fill="#131722" textLength="8.2" lengthAdjust="spacingAndGlyphs">24</text>
<text x="713.7" y="517.8" fill="#131722" textLength="8.2" lengthAdjust="spacingAndGlyphs">28</text>
<text x="770.0" y="517.8" fill="#131722" textLength="13.9" lengthAdjust="spacingAndGlyphs" font-weight="bold">Aug</text>
<text x="863.5" y="517.8" fill="#131722" textLength="4.1" lengthAdjust="spacingAndGlyphs">7</text>
<g fill="none" stroke="#9c27b0" stroke-width="0.9"><circle cx="860.8" cy="368" r="6.5" fill="#fff" stroke-width="1.05"/><path d="M862.6,363.8L858.2,368.6H861L859,372.2L863.4,367.4H860.6Z" fill="#9c27b0" stroke="none"/></g>
<g fill="#1e222d"><path d="M6.8,532.2H11.3V539H9.1V534.9H6.8Z"/><circle cx="13.4" cy="533.5" r="1.25"/><path d="M16.3,532.2H19.9L16.7,539H13.6Z"/></g>
<text x="22.9" y="539" fill="#2a2e39" textLength="47" lengthAdjust="spacingAndGlyphs" font-size="8.8">TradingView</text>
</svg></body></html>
